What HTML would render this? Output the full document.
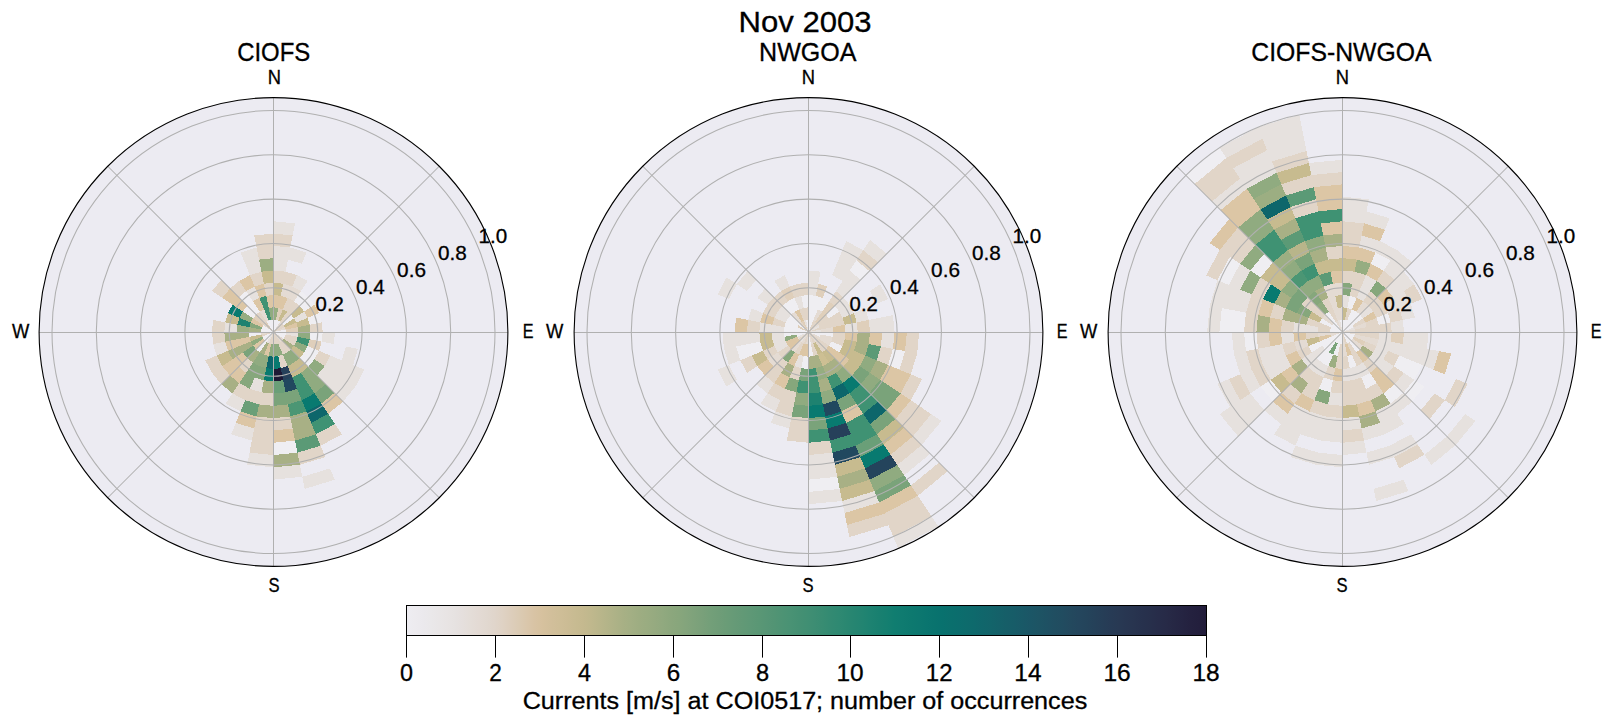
<!DOCTYPE html><html><head><meta charset="utf-8"><style>html,body{margin:0;padding:0;background:#fff;width:1611px;height:724px;overflow:hidden}svg{display:block}text{font-family:"Liberation Sans",sans-serif;fill:#000;stroke:#000;stroke-width:0.3px}</style></head><body>
<svg width="1611" height="724" viewBox="0 0 1611 724">
<rect width="1611" height="724" fill="#fff"/>
<text x="738.54" y="32.00" font-size="29.60" textLength="133.03" lengthAdjust="spacingAndGlyphs">Nov 2003</text>
<text x="237.13" y="60.80" font-size="26.15" textLength="73.12" lengthAdjust="spacingAndGlyphs">CIOFS</text>
<text x="759.06" y="60.80" font-size="26.15" textLength="97.47" lengthAdjust="spacingAndGlyphs">NWGOA</text>
<text x="1251.33" y="60.80" font-size="26.15" textLength="180.14" lengthAdjust="spacingAndGlyphs">CIOFS-NWGOA</text>
<circle cx="273.50" cy="332.00" r="234.40" fill="#ECEBF2"/>
<g shape-rendering="crispEdges"><path d="M273.50,332.00L273.50,319.69L275.90,319.93L273.50,332.00Z" fill="#efeef2"/><path d="M273.50,319.69L273.50,307.39L278.30,307.86L275.90,319.93Z" fill="#96ad81"/><path d="M273.50,307.39L273.50,295.08L280.70,295.79L278.30,307.86Z" fill="#dcc6a5"/><path d="M273.50,295.08L273.50,282.78L283.10,283.72L280.70,295.79Z" fill="#c7bb8f"/><path d="M273.50,282.78L273.50,270.47L285.50,271.65L283.10,283.72Z" fill="#e1d5c8"/><path d="M273.50,270.47L273.50,258.17L287.90,259.59L285.50,271.65Z" fill="#e6e1de"/><path d="M273.50,258.17L273.50,245.86L290.30,247.52L287.90,259.59Z" fill="#e6e1de"/><path d="M273.50,245.86L273.50,233.56L292.71,235.45L290.30,247.52Z" fill="#e1d5c8"/><path d="M273.50,233.56L273.50,221.25L295.11,223.38L292.71,235.45Z" fill="#e6e1de"/><path d="M273.50,332.00L275.90,319.93L278.21,320.63L273.50,332.00Z" fill="#efeef2"/><path d="M275.90,319.93L278.30,307.86L282.92,309.26L278.21,320.63Z" fill="#dfcfbb"/><path d="M278.30,307.86L280.70,295.79L287.63,297.89L282.92,309.26Z" fill="#dcc6a5"/><path d="M280.70,295.79L283.10,283.72L292.34,286.52L287.63,297.89Z" fill="#e4dbd3"/><path d="M283.10,283.72L285.50,271.65L297.05,275.16L292.34,286.52Z" fill="#e1d5c8"/><path d="M287.90,259.59L290.30,247.52L306.46,252.42L301.75,263.79Z" fill="#e6e1de"/><path d="M273.50,332.00L278.21,320.63L280.34,321.77L273.50,332.00Z" fill="#efeef2"/><path d="M278.21,320.63L282.92,309.26L287.17,311.54L280.34,321.77Z" fill="#c7bb8f"/><path d="M282.92,309.26L287.63,297.89L294.01,301.30L287.17,311.54Z" fill="#e1d5c8"/><path d="M287.63,297.89L292.34,286.52L300.85,291.07L294.01,301.30Z" fill="#e4dbd3"/><path d="M292.34,286.52L297.05,275.16L307.68,280.84L300.85,291.07Z" fill="#e6e1de"/><path d="M273.50,332.00L280.34,321.77L282.20,323.30L273.50,332.00Z" fill="#e4dbd3"/><path d="M280.34,321.77L287.17,311.54L290.90,314.60L282.20,323.30Z" fill="#e1d5c8"/><path d="M287.17,311.54L294.01,301.30L299.60,305.90L290.90,314.60Z" fill="#e1d5c8"/><path d="M294.01,301.30L300.85,291.07L308.31,297.19L299.60,305.90Z" fill="#efeef2"/><path d="M273.50,332.00L282.20,323.30L283.73,325.16L273.50,332.00Z" fill="#e1d5c8"/><path d="M282.20,323.30L290.90,314.60L293.96,318.33L283.73,325.16Z" fill="#efeef2"/><path d="M290.90,314.60L299.60,305.90L304.20,311.49L293.96,318.33Z" fill="#c7bb8f"/><path d="M299.60,305.90L308.31,297.19L314.43,304.65L304.20,311.49Z" fill="#efeef2"/><path d="M273.50,332.00L283.73,325.16L284.87,327.29L273.50,332.00Z" fill="#e1d5c8"/><path d="M283.73,325.16L293.96,318.33L296.24,322.58L284.87,327.29Z" fill="#c7bb8f"/><path d="M293.96,318.33L304.20,311.49L307.61,317.87L296.24,322.58Z" fill="#e6e1de"/><path d="M304.20,311.49L314.43,304.65L318.98,313.16L307.61,317.87Z" fill="#dcc6a5"/><path d="M273.50,332.00L284.87,327.29L285.57,329.60L273.50,332.00Z" fill="#e4dbd3"/><path d="M284.87,327.29L296.24,322.58L297.64,327.20L285.57,329.60Z" fill="#dcc6a5"/><path d="M296.24,322.58L307.61,317.87L309.71,324.80L297.64,327.20Z" fill="#c7bb8f"/><path d="M307.61,317.87L318.98,313.16L321.78,322.40L309.71,324.80Z" fill="#efeef2"/><path d="M273.50,332.00L285.57,329.60L285.81,332.00L273.50,332.00Z" fill="#efeef2"/><path d="M285.57,329.60L297.64,327.20L298.11,332.00L285.81,332.00Z" fill="#dfcfbb"/><path d="M297.64,327.20L309.71,324.80L310.42,332.00L298.11,332.00Z" fill="#a8b085"/><path d="M309.71,324.80L321.78,322.40L322.72,332.00L310.42,332.00Z" fill="#e1d5c8"/><path d="M273.50,332.00L285.81,332.00L285.57,334.40L273.50,332.00Z" fill="#efeef2"/><path d="M285.81,332.00L298.11,332.00L297.64,336.80L285.57,334.40Z" fill="#e6e1de"/><path d="M298.11,332.00L310.42,332.00L309.71,339.20L297.64,336.80Z" fill="#90ab80"/><path d="M310.42,332.00L322.72,332.00L321.78,341.60L309.71,339.20Z" fill="#efeef2"/><path d="M322.72,332.00L335.03,332.00L333.85,344.00L321.78,341.60Z" fill="#e6e1de"/><path d="M273.50,332.00L285.57,334.40L284.87,336.71L273.50,332.00Z" fill="#efeef2"/><path d="M285.57,334.40L297.64,336.80L296.24,341.42L284.87,336.71Z" fill="#e1d5c8"/><path d="M297.64,336.80L309.71,339.20L307.61,346.13L296.24,341.42Z" fill="#3f9273"/><path d="M309.71,339.20L321.78,341.60L318.98,350.84L307.61,346.13Z" fill="#dfcfbb"/><path d="M345.91,346.40L357.98,348.80L353.08,364.96L341.71,360.25Z" fill="#e6e1de"/><path d="M273.50,332.00L284.87,336.71L283.73,338.84L273.50,332.00Z" fill="#efeef2"/><path d="M284.87,336.71L296.24,341.42L293.96,345.67L283.73,338.84Z" fill="#e1d5c8"/><path d="M296.24,341.42L307.61,346.13L304.20,352.51L293.96,345.67Z" fill="#90ab80"/><path d="M307.61,346.13L318.98,350.84L314.43,359.35L304.20,352.51Z" fill="#efeef2"/><path d="M318.98,350.84L330.34,355.55L324.66,366.18L314.43,359.35Z" fill="#e1d5c8"/><path d="M330.34,355.55L341.71,360.25L334.89,373.02L324.66,366.18Z" fill="#e6e1de"/><path d="M341.71,360.25L353.08,364.96L345.12,379.86L334.89,373.02Z" fill="#e6e1de"/><path d="M353.08,364.96L364.45,369.67L355.35,386.69L345.12,379.86Z" fill="#e6e1de"/><path d="M273.50,332.00L283.73,338.84L282.20,340.70L273.50,332.00Z" fill="#e4dbd3"/><path d="M283.73,338.84L293.96,345.67L290.90,349.40L282.20,340.70Z" fill="#a8b085"/><path d="M293.96,345.67L304.20,352.51L299.60,358.10L290.90,349.40Z" fill="#c7bb8f"/><path d="M304.20,352.51L314.43,359.35L308.31,366.81L299.60,358.10Z" fill="#efeef2"/><path d="M314.43,359.35L324.66,366.18L317.01,375.51L308.31,366.81Z" fill="#90ab80"/><path d="M324.66,366.18L334.89,373.02L325.71,384.21L317.01,375.51Z" fill="#e6e1de"/><path d="M334.89,373.02L345.12,379.86L334.41,392.91L325.71,384.21Z" fill="#e6e1de"/><path d="M345.12,379.86L355.35,386.69L343.11,401.61L334.41,392.91Z" fill="#e6e1de"/><path d="M273.50,332.00L282.20,340.70L280.34,342.23L273.50,332.00Z" fill="#e4dbd3"/><path d="M282.20,340.70L290.90,349.40L287.17,352.46L280.34,342.23Z" fill="#e1d5c8"/><path d="M290.90,349.40L299.60,358.10L294.01,362.70L287.17,352.46Z" fill="#90ab80"/><path d="M299.60,358.10L308.31,366.81L300.85,372.93L294.01,362.70Z" fill="#c7bb8f"/><path d="M308.31,366.81L317.01,375.51L307.68,383.16L300.85,372.93Z" fill="#90ab80"/><path d="M317.01,375.51L325.71,384.21L314.52,393.39L307.68,383.16Z" fill="#90ab80"/><path d="M325.71,384.21L334.41,392.91L321.36,403.62L314.52,393.39Z" fill="#7aa37a"/><path d="M334.41,392.91L343.11,401.61L328.19,413.85L321.36,403.62Z" fill="#dcc6a5"/><path d="M273.50,332.00L280.34,342.23L278.21,343.37L273.50,332.00Z" fill="#e1d5c8"/><path d="M280.34,342.23L287.17,352.46L282.92,354.74L278.21,343.37Z" fill="#e1d5c8"/><path d="M287.17,352.46L294.01,362.70L287.63,366.11L282.92,354.74Z" fill="#90ab80"/><path d="M294.01,362.70L300.85,372.93L292.34,377.48L287.63,366.11Z" fill="#c7bb8f"/><path d="M300.85,372.93L307.68,383.16L297.05,388.84L292.34,377.48Z" fill="#3f9273"/><path d="M307.68,383.16L314.52,393.39L301.75,400.21L297.05,388.84Z" fill="#3f9273"/><path d="M314.52,393.39L321.36,403.62L306.46,411.58L301.75,400.21Z" fill="#087a70"/><path d="M321.36,403.62L328.19,413.85L311.17,422.95L306.46,411.58Z" fill="#0d666b"/><path d="M328.19,413.85L335.03,424.09L315.88,434.32L311.17,422.95Z" fill="#3f9273"/><path d="M335.03,424.09L341.87,434.32L320.59,445.69L315.88,434.32Z" fill="#e1d5c8"/><path d="M273.50,332.00L278.21,343.37L275.90,344.07L273.50,332.00Z" fill="#e1d5c8"/><path d="M278.21,343.37L282.92,354.74L278.30,356.14L275.90,344.07Z" fill="#90ab80"/><path d="M282.92,354.74L287.63,366.11L280.70,368.21L278.30,356.14Z" fill="#e1d5c8"/><path d="M287.63,366.11L292.34,377.48L283.10,380.28L280.70,368.21Z" fill="#26405a"/><path d="M292.34,377.48L297.05,388.84L285.50,392.35L283.10,380.28Z" fill="#21485f"/><path d="M297.05,388.84L301.75,400.21L287.90,404.41L285.50,392.35Z" fill="#7aa37a"/><path d="M301.75,400.21L306.46,411.58L290.30,416.48L287.90,404.41Z" fill="#4b9674"/><path d="M306.46,411.58L311.17,422.95L292.71,428.55L290.30,416.48Z" fill="#a8b085"/><path d="M311.17,422.95L315.88,434.32L295.11,440.62L292.71,428.55Z" fill="#a8b085"/><path d="M315.88,434.32L320.59,445.69L297.51,452.69L295.11,440.62Z" fill="#5b9a76"/><path d="M320.59,445.69L325.30,457.06L299.91,464.76L297.51,452.69Z" fill="#e1d5c8"/><path d="M330.01,468.43L334.72,479.80L304.71,488.90L302.31,476.83Z" fill="#e6e1de"/><path d="M273.50,332.00L275.90,344.07L273.50,344.31L273.50,332.00Z" fill="#e1d5c8"/><path d="M275.90,344.07L278.30,356.14L273.50,356.61L273.50,344.31Z" fill="#90ab80"/><path d="M278.30,356.14L280.70,368.21L273.50,368.92L273.50,356.61Z" fill="#087a70"/><path d="M280.70,368.21L283.10,380.28L273.50,381.22L273.50,368.92Z" fill="#1e1a36"/><path d="M283.10,380.28L285.50,392.35L273.50,393.53L273.50,381.22Z" fill="#6a9f78"/><path d="M285.50,392.35L287.90,404.41L273.50,405.83L273.50,393.53Z" fill="#7aa37a"/><path d="M287.90,404.41L290.30,416.48L273.50,418.14L273.50,405.83Z" fill="#a8b085"/><path d="M290.30,416.48L292.71,428.55L273.50,430.44L273.50,418.14Z" fill="#e1d5c8"/><path d="M292.71,428.55L295.11,440.62L273.50,442.75L273.50,430.44Z" fill="#dcc6a5"/><path d="M295.11,440.62L297.51,452.69L273.50,455.06L273.50,442.75Z" fill="#efeef2"/><path d="M297.51,452.69L299.91,464.76L273.50,467.36L273.50,455.06Z" fill="#a8b085"/><path d="M299.91,464.76L302.31,476.83L273.50,479.67L273.50,467.36Z" fill="#e6e1de"/><path d="M273.50,332.00L273.50,344.31L271.10,344.07L273.50,332.00Z" fill="#e1d5c8"/><path d="M273.50,344.31L273.50,356.61L268.70,356.14L271.10,344.07Z" fill="#90ab80"/><path d="M273.50,356.61L273.50,368.92L266.30,368.21L268.70,356.14Z" fill="#0d666b"/><path d="M273.50,368.92L273.50,381.22L263.90,380.28L266.30,368.21Z" fill="#087a70"/><path d="M273.50,381.22L273.50,393.53L261.50,392.35L263.90,380.28Z" fill="#a8b085"/><path d="M273.50,393.53L273.50,405.83L259.10,404.41L261.50,392.35Z" fill="#e1d5c8"/><path d="M273.50,405.83L273.50,418.14L256.70,416.48L259.10,404.41Z" fill="#a8b085"/><path d="M273.50,418.14L273.50,430.44L254.29,428.55L256.70,416.48Z" fill="#e1d5c8"/><path d="M273.50,430.44L273.50,442.75L251.89,440.62L254.29,428.55Z" fill="#e1d5c8"/><path d="M273.50,442.75L273.50,455.06L249.49,452.69L251.89,440.62Z" fill="#e1d5c8"/><path d="M273.50,455.06L273.50,467.36L247.09,464.76L249.49,452.69Z" fill="#e6e1de"/><path d="M273.50,332.00L271.10,344.07L268.79,343.37L273.50,332.00Z" fill="#e1d5c8"/><path d="M271.10,344.07L268.70,356.14L264.08,354.74L268.79,343.37Z" fill="#dcc6a5"/><path d="M268.70,356.14L266.30,368.21L259.37,366.11L264.08,354.74Z" fill="#90ab80"/><path d="M266.30,368.21L263.90,380.28L254.66,377.48L259.37,366.11Z" fill="#86a77c"/><path d="M263.90,380.28L261.50,392.35L249.95,388.84L254.66,377.48Z" fill="#e6e1de"/><path d="M261.50,392.35L259.10,404.41L245.25,400.21L249.95,388.84Z" fill="#e1d5c8"/><path d="M259.10,404.41L256.70,416.48L240.54,411.58L245.25,400.21Z" fill="#6a9f78"/><path d="M256.70,416.48L254.29,428.55L235.83,422.95L240.54,411.58Z" fill="#dcc6a5"/><path d="M254.29,428.55L251.89,440.62L231.12,434.32L235.83,422.95Z" fill="#e6e1de"/><path d="M273.50,332.00L268.79,343.37L266.66,342.23L273.50,332.00Z" fill="#e6e1de"/><path d="M268.79,343.37L264.08,354.74L259.83,352.46L266.66,342.23Z" fill="#a8b085"/><path d="M264.08,354.74L259.37,366.11L252.99,362.70L259.83,352.46Z" fill="#90ab80"/><path d="M259.37,366.11L254.66,377.48L246.15,372.93L252.99,362.70Z" fill="#86a77c"/><path d="M254.66,377.48L249.95,388.84L239.32,383.16L246.15,372.93Z" fill="#86a77c"/><path d="M249.95,388.84L245.25,400.21L232.48,393.39L239.32,383.16Z" fill="#e1d5c8"/><path d="M245.25,400.21L240.54,411.58L225.64,403.62L232.48,393.39Z" fill="#e6e1de"/><path d="M273.50,332.00L266.66,342.23L264.80,340.70L273.50,332.00Z" fill="#efeef2"/><path d="M266.66,342.23L259.83,352.46L256.10,349.40L264.80,340.70Z" fill="#efeef2"/><path d="M259.83,352.46L252.99,362.70L247.40,358.10L256.10,349.40Z" fill="#a8b085"/><path d="M252.99,362.70L246.15,372.93L238.69,366.81L247.40,358.10Z" fill="#e1d5c8"/><path d="M246.15,372.93L239.32,383.16L229.99,375.51L238.69,366.81Z" fill="#dcc6a5"/><path d="M239.32,383.16L232.48,393.39L221.29,384.21L229.99,375.51Z" fill="#a8b085"/><path d="M273.50,332.00L264.80,340.70L263.27,338.84L273.50,332.00Z" fill="#efeef2"/><path d="M264.80,340.70L256.10,349.40L253.04,345.67L263.27,338.84Z" fill="#dcc6a5"/><path d="M256.10,349.40L247.40,358.10L242.80,352.51L253.04,345.67Z" fill="#7aa37a"/><path d="M247.40,358.10L238.69,366.81L232.57,359.35L242.80,352.51Z" fill="#dcc6a5"/><path d="M238.69,366.81L229.99,375.51L222.34,366.18L232.57,359.35Z" fill="#dcc6a5"/><path d="M229.99,375.51L221.29,384.21L212.11,373.02L222.34,366.18Z" fill="#e1d5c8"/><path d="M273.50,332.00L263.27,338.84L262.13,336.71L273.50,332.00Z" fill="#efeef2"/><path d="M263.27,338.84L253.04,345.67L250.76,341.42L262.13,336.71Z" fill="#90ab80"/><path d="M253.04,345.67L242.80,352.51L239.39,346.13L250.76,341.42Z" fill="#a8b085"/><path d="M242.80,352.51L232.57,359.35L228.02,350.84L239.39,346.13Z" fill="#a8b085"/><path d="M232.57,359.35L222.34,366.18L216.66,355.55L228.02,350.84Z" fill="#c7bb8f"/><path d="M222.34,366.18L212.11,373.02L205.29,360.25L216.66,355.55Z" fill="#e1d5c8"/><path d="M273.50,332.00L262.13,336.71L261.43,334.40L273.50,332.00Z" fill="#e1d5c8"/><path d="M262.13,336.71L250.76,341.42L249.36,336.80L261.43,334.40Z" fill="#c7bb8f"/><path d="M250.76,341.42L239.39,346.13L237.29,339.20L249.36,336.80Z" fill="#dcc6a5"/><path d="M239.39,346.13L228.02,350.84L225.22,341.60L237.29,339.20Z" fill="#dcc6a5"/><path d="M228.02,350.84L216.66,355.55L213.15,344.00L225.22,341.60Z" fill="#e6e1de"/><path d="M273.50,332.00L261.43,334.40L261.19,332.00L273.50,332.00Z" fill="#e4dbd3"/><path d="M261.43,334.40L249.36,336.80L248.89,332.00L261.19,332.00Z" fill="#efeef2"/><path d="M249.36,336.80L237.29,339.20L236.58,332.00L248.89,332.00Z" fill="#a8b085"/><path d="M237.29,339.20L225.22,341.60L224.28,332.00L236.58,332.00Z" fill="#a8b085"/><path d="M225.22,341.60L213.15,344.00L211.97,332.00L224.28,332.00Z" fill="#e1d5c8"/><path d="M273.50,332.00L261.19,332.00L261.43,329.60L273.50,332.00Z" fill="#efeef2"/><path d="M261.19,332.00L248.89,332.00L249.36,327.20L261.43,329.60Z" fill="#a8b085"/><path d="M248.89,332.00L236.58,332.00L237.29,324.80L249.36,327.20Z" fill="#9cae82"/><path d="M236.58,332.00L224.28,332.00L225.22,322.40L237.29,324.80Z" fill="#e6e1de"/><path d="M224.28,332.00L211.97,332.00L213.15,320.00L225.22,322.40Z" fill="#e1d5c8"/><path d="M273.50,332.00L261.43,329.60L262.13,327.29L273.50,332.00Z" fill="#efeef2"/><path d="M261.43,329.60L249.36,327.20L250.76,322.58L262.13,327.29Z" fill="#86a77c"/><path d="M249.36,327.20L237.29,324.80L239.39,317.87L250.76,322.58Z" fill="#1e8270"/><path d="M237.29,324.80L225.22,322.40L228.02,313.16L239.39,317.87Z" fill="#c7bb8f"/><path d="M273.50,332.00L262.13,327.29L263.27,325.16L273.50,332.00Z" fill="#efeef2"/><path d="M262.13,327.29L250.76,322.58L253.04,318.33L263.27,325.16Z" fill="#dcc6a5"/><path d="M250.76,322.58L239.39,317.87L242.80,311.49L253.04,318.33Z" fill="#96ad81"/><path d="M239.39,317.87L228.02,313.16L232.57,304.65L242.80,311.49Z" fill="#087a70"/><path d="M273.50,332.00L263.27,325.16L264.80,323.30L273.50,332.00Z" fill="#e1d5c8"/><path d="M263.27,325.16L253.04,318.33L256.10,314.60L264.80,323.30Z" fill="#dfcfbb"/><path d="M253.04,318.33L242.80,311.49L247.40,305.90L256.10,314.60Z" fill="#efeef2"/><path d="M242.80,311.49L232.57,304.65L238.69,297.19L247.40,305.90Z" fill="#dcc6a5"/><path d="M232.57,304.65L222.34,297.82L229.99,288.49L238.69,297.19Z" fill="#dcc6a5"/><path d="M222.34,297.82L212.11,290.98L221.29,279.79L229.99,288.49Z" fill="#e1d5c8"/><path d="M273.50,332.00L264.80,323.30L266.66,321.77L273.50,332.00Z" fill="#dfcfbb"/><path d="M264.80,323.30L256.10,314.60L259.83,311.54L266.66,321.77Z" fill="#e1d5c8"/><path d="M256.10,314.60L247.40,305.90L252.99,301.30L259.83,311.54Z" fill="#efeef2"/><path d="M247.40,305.90L238.69,297.19L246.15,291.07L252.99,301.30Z" fill="#efeef2"/><path d="M238.69,297.19L229.99,288.49L239.32,280.84L246.15,291.07Z" fill="#e1d5c8"/><path d="M273.50,332.00L266.66,321.77L268.79,320.63L273.50,332.00Z" fill="#efeef2"/><path d="M266.66,321.77L259.83,311.54L264.08,309.26L268.79,320.63Z" fill="#e4dbd3"/><path d="M259.83,311.54L252.99,301.30L259.37,297.89L264.08,309.26Z" fill="#dcc6a5"/><path d="M252.99,301.30L246.15,291.07L254.66,286.52L259.37,297.89Z" fill="#e6e1de"/><path d="M246.15,291.07L239.32,280.84L249.95,275.16L254.66,286.52Z" fill="#dcc6a5"/><path d="M273.50,332.00L268.79,320.63L271.10,319.93L273.50,332.00Z" fill="#efeef2"/><path d="M268.79,320.63L264.08,309.26L268.70,307.86L271.10,319.93Z" fill="#3f9273"/><path d="M264.08,309.26L259.37,297.89L266.30,295.79L268.70,307.86Z" fill="#3f9273"/><path d="M259.37,297.89L254.66,286.52L263.90,283.72L266.30,295.79Z" fill="#dcc6a5"/><path d="M254.66,286.52L249.95,275.16L261.50,271.65L263.90,283.72Z" fill="#e1d5c8"/><path d="M249.95,275.16L245.25,263.79L259.10,259.59L261.50,271.65Z" fill="#e6e1de"/><path d="M245.25,263.79L240.54,252.42L256.70,247.52L259.10,259.59Z" fill="#e6e1de"/><path d="M273.50,332.00L271.10,319.93L273.50,319.69L273.50,332.00Z" fill="#efeef2"/><path d="M271.10,319.93L268.70,307.86L273.50,307.39L273.50,319.69Z" fill="#90ab80"/><path d="M268.70,307.86L266.30,295.79L273.50,295.08L273.50,307.39Z" fill="#dcc6a5"/><path d="M266.30,295.79L263.90,283.72L273.50,282.78L273.50,295.08Z" fill="#e1d5c8"/><path d="M263.90,283.72L261.50,271.65L273.50,270.47L273.50,282.78Z" fill="#c7bb8f"/><path d="M261.50,271.65L259.10,259.59L273.50,258.17L273.50,270.47Z" fill="#9cae82"/><path d="M259.10,259.59L256.70,247.52L273.50,245.86L273.50,258.17Z" fill="#e1d5c8"/><path d="M256.70,247.52L254.29,235.45L273.50,233.56L273.50,245.86Z" fill="#e1d5c8"/></g>
<g fill="none" stroke="#b0b0b0" stroke-width="1.05"><circle cx="273.50" cy="332.00" r="44.30"/><circle cx="273.50" cy="332.00" r="88.60"/><circle cx="273.50" cy="332.00" r="132.90"/><circle cx="273.50" cy="332.00" r="177.20"/><circle cx="273.50" cy="332.00" r="221.50"/><line x1="273.50" y1="332.00" x2="273.50" y2="97.60"/><line x1="273.50" y1="332.00" x2="439.25" y2="166.25"/><line x1="273.50" y1="332.50" x2="507.90" y2="332.50"/><line x1="273.50" y1="332.00" x2="439.25" y2="497.75"/><line x1="273.50" y1="332.00" x2="273.50" y2="566.40"/><line x1="273.50" y1="332.00" x2="107.75" y2="497.75"/><line x1="273.50" y1="332.50" x2="39.10" y2="332.50"/><line x1="273.50" y1="332.00" x2="107.75" y2="166.25"/></g>
<circle cx="273.50" cy="332.00" r="234.40" fill="none" stroke="#000" stroke-width="1.1"/>
<text x="267.66" y="83.90" font-size="19.77" textLength="13.27" lengthAdjust="spacingAndGlyphs">N</text>
<text x="268.57" y="591.50" font-size="19.77" textLength="11.06" lengthAdjust="spacingAndGlyphs">S</text>
<text x="522.71" y="337.60" font-size="19.77" textLength="10.75" lengthAdjust="spacingAndGlyphs">E</text>
<text x="11.94" y="337.60" font-size="19.77" textLength="17.31" lengthAdjust="spacingAndGlyphs">W</text>
<text x="315.59" y="310.95" font-size="19.77" textLength="28.31" lengthAdjust="spacingAndGlyphs">0.2</text>
<text x="356.09" y="293.99" font-size="19.77" textLength="28.72" lengthAdjust="spacingAndGlyphs">0.4</text>
<text x="397.08" y="277.04" font-size="19.77" textLength="28.91" lengthAdjust="spacingAndGlyphs">0.6</text>
<text x="438.06" y="260.09" font-size="19.77" textLength="28.79" lengthAdjust="spacingAndGlyphs">0.8</text>
<text x="478.62" y="243.14" font-size="19.77" textLength="28.68" lengthAdjust="spacingAndGlyphs">1.0</text>
<circle cx="808.50" cy="332.00" r="234.40" fill="#ECEBF2"/>
<g shape-rendering="crispEdges"><path d="M808.50,332.00L808.50,319.69L810.90,319.93L808.50,332.00Z" fill="#efeef2"/><path d="M808.50,319.69L808.50,307.39L813.30,307.86L810.90,319.93Z" fill="#efeef2"/><path d="M808.50,307.39L808.50,295.08L815.70,295.79L813.30,307.86Z" fill="#efeef2"/><path d="M808.50,295.08L808.50,282.78L818.10,283.72L815.70,295.79Z" fill="#e6e1de"/><path d="M808.50,282.78L808.50,270.47L820.50,271.65L818.10,283.72Z" fill="#e6e1de"/><path d="M808.50,332.00L810.90,319.93L813.21,320.63L808.50,332.00Z" fill="#efeef2"/><path d="M810.90,319.93L813.30,307.86L817.92,309.26L813.21,320.63Z" fill="#efeef2"/><path d="M813.30,307.86L815.70,295.79L822.63,297.89L817.92,309.26Z" fill="#efeef2"/><path d="M815.70,295.79L818.10,283.72L827.34,286.52L822.63,297.89Z" fill="#dfcfbb"/><path d="M808.50,332.00L813.21,320.63L815.34,321.77L808.50,332.00Z" fill="#e1d5c8"/><path d="M813.21,320.63L817.92,309.26L822.17,311.54L815.34,321.77Z" fill="#e4dbd3"/><path d="M817.92,309.26L822.63,297.89L829.01,301.30L822.17,311.54Z" fill="#efeef2"/><path d="M832.05,275.16L836.75,263.79L849.52,270.61L842.68,280.84Z" fill="#e6e1de"/><path d="M836.75,263.79L841.46,252.42L856.36,260.38L849.52,270.61Z" fill="#e6e1de"/><path d="M841.46,252.42L846.17,241.05L863.19,250.15L856.36,260.38Z" fill="#e6e1de"/><path d="M808.50,332.00L815.34,321.77L817.20,323.30L808.50,332.00Z" fill="#e1d5c8"/><path d="M815.34,321.77L822.17,311.54L825.90,314.60L817.20,323.30Z" fill="#dfcfbb"/><path d="M822.17,311.54L829.01,301.30L834.60,305.90L825.90,314.60Z" fill="#dfcfbb"/><path d="M829.01,301.30L835.85,291.07L843.31,297.19L834.60,305.90Z" fill="#e1d5c8"/><path d="M835.85,291.07L842.68,280.84L852.01,288.49L843.31,297.19Z" fill="#e6e1de"/><path d="M842.68,280.84L849.52,270.61L860.71,279.79L852.01,288.49Z" fill="#e6e1de"/><path d="M849.52,270.61L856.36,260.38L869.41,271.09L860.71,279.79Z" fill="#efeef2"/><path d="M856.36,260.38L863.19,250.15L878.11,262.39L869.41,271.09Z" fill="#e1d5c8"/><path d="M863.19,250.15L870.03,239.91L886.81,253.69L878.11,262.39Z" fill="#e6e1de"/><path d="M808.50,332.00L817.20,323.30L818.73,325.16L808.50,332.00Z" fill="#e4dbd3"/><path d="M817.20,323.30L825.90,314.60L828.96,318.33L818.73,325.16Z" fill="#e1d5c8"/><path d="M825.90,314.60L834.60,305.90L839.20,311.49L828.96,318.33Z" fill="#efeef2"/><path d="M834.60,305.90L843.31,297.19L849.43,304.65L839.20,311.49Z" fill="#e6e1de"/><path d="M808.50,332.00L818.73,325.16L819.87,327.29L808.50,332.00Z" fill="#e6e1de"/><path d="M818.73,325.16L828.96,318.33L831.24,322.58L819.87,327.29Z" fill="#e1d5c8"/><path d="M828.96,318.33L839.20,311.49L842.61,317.87L831.24,322.58Z" fill="#e1d5c8"/><path d="M839.20,311.49L849.43,304.65L853.98,313.16L842.61,317.87Z" fill="#e6e1de"/><path d="M869.89,290.98L880.12,284.14L888.08,299.04L876.71,303.75Z" fill="#e6e1de"/><path d="M808.50,332.00L819.87,327.29L820.57,329.60L808.50,332.00Z" fill="#e1d5c8"/><path d="M819.87,327.29L831.24,322.58L832.64,327.20L820.57,329.60Z" fill="#e1d5c8"/><path d="M831.24,322.58L842.61,317.87L844.71,324.80L832.64,327.20Z" fill="#e1d5c8"/><path d="M842.61,317.87L853.98,313.16L856.78,322.40L844.71,324.80Z" fill="#c7bb8f"/><path d="M853.98,313.16L865.34,308.45L868.85,320.00L856.78,322.40Z" fill="#e6e1de"/><path d="M808.50,332.00L820.57,329.60L820.81,332.00L808.50,332.00Z" fill="#e6e1de"/><path d="M820.57,329.60L832.64,327.20L833.11,332.00L820.81,332.00Z" fill="#e4dbd3"/><path d="M832.64,327.20L844.71,324.80L845.42,332.00L833.11,332.00Z" fill="#dcc6a5"/><path d="M844.71,324.80L856.78,322.40L857.72,332.00L845.42,332.00Z" fill="#e6e1de"/><path d="M856.78,322.40L868.85,320.00L870.03,332.00L857.72,332.00Z" fill="#dfcfbb"/><path d="M868.85,320.00L880.91,317.60L882.33,332.00L870.03,332.00Z" fill="#e6e1de"/><path d="M880.91,317.60L892.98,315.20L894.64,332.00L882.33,332.00Z" fill="#e6e1de"/><path d="M808.50,332.00L820.81,332.00L820.57,334.40L808.50,332.00Z" fill="#efeef2"/><path d="M820.81,332.00L833.11,332.00L832.64,336.80L820.57,334.40Z" fill="#efeef2"/><path d="M833.11,332.00L845.42,332.00L844.71,339.20L832.64,336.80Z" fill="#e1d5c8"/><path d="M845.42,332.00L857.72,332.00L856.78,341.60L844.71,339.20Z" fill="#dcc6a5"/><path d="M857.72,332.00L870.03,332.00L868.85,344.00L856.78,341.60Z" fill="#a8b085"/><path d="M870.03,332.00L882.33,332.00L880.91,346.40L868.85,344.00Z" fill="#dcc6a5"/><path d="M882.33,332.00L894.64,332.00L892.98,348.80L880.91,346.40Z" fill="#e6e1de"/><path d="M894.64,332.00L906.94,332.00L905.05,351.21L892.98,348.80Z" fill="#dcc6a5"/><path d="M906.94,332.00L919.25,332.00L917.12,353.61L905.05,351.21Z" fill="#e1d5c8"/><path d="M808.50,332.00L820.57,334.40L819.87,336.71L808.50,332.00Z" fill="#efeef2"/><path d="M820.57,334.40L832.64,336.80L831.24,341.42L819.87,336.71Z" fill="#e4dbd3"/><path d="M832.64,336.80L844.71,339.20L842.61,346.13L831.24,341.42Z" fill="#e1d5c8"/><path d="M844.71,339.20L856.78,341.60L853.98,350.84L842.61,346.13Z" fill="#c7bb8f"/><path d="M856.78,341.60L868.85,344.00L865.34,355.55L853.98,350.84Z" fill="#a8b085"/><path d="M868.85,344.00L880.91,346.40L876.71,360.25L865.34,355.55Z" fill="#5b9a76"/><path d="M880.91,346.40L892.98,348.80L888.08,364.96L876.71,360.25Z" fill="#e1d5c8"/><path d="M892.98,348.80L905.05,351.21L899.45,369.67L888.08,364.96Z" fill="#efeef2"/><path d="M905.05,351.21L917.12,353.61L910.82,374.38L899.45,369.67Z" fill="#e1d5c8"/><path d="M808.50,332.00L819.87,336.71L818.73,338.84L808.50,332.00Z" fill="#e4dbd3"/><path d="M819.87,336.71L831.24,341.42L828.96,345.67L818.73,338.84Z" fill="#e4dbd3"/><path d="M831.24,341.42L842.61,346.13L839.20,352.51L828.96,345.67Z" fill="#efeef2"/><path d="M842.61,346.13L853.98,350.84L849.43,359.35L839.20,352.51Z" fill="#c7bb8f"/><path d="M853.98,350.84L865.34,355.55L859.66,366.18L849.43,359.35Z" fill="#c7bb8f"/><path d="M865.34,355.55L876.71,360.25L869.89,373.02L859.66,366.18Z" fill="#90ab80"/><path d="M876.71,360.25L888.08,364.96L880.12,379.86L869.89,373.02Z" fill="#a8b085"/><path d="M888.08,364.96L899.45,369.67L890.35,386.69L880.12,379.86Z" fill="#dcc6a5"/><path d="M899.45,369.67L910.82,374.38L900.59,393.53L890.35,386.69Z" fill="#dcc6a5"/><path d="M910.82,374.38L922.19,379.09L910.82,400.37L900.59,393.53Z" fill="#e1d5c8"/><path d="M808.50,332.00L818.73,338.84L817.20,340.70L808.50,332.00Z" fill="#e1d5c8"/><path d="M818.73,338.84L828.96,345.67L825.90,349.40L817.20,340.70Z" fill="#e1d5c8"/><path d="M828.96,345.67L839.20,352.51L834.60,358.10L825.90,349.40Z" fill="#dcc6a5"/><path d="M839.20,352.51L849.43,359.35L843.31,366.81L834.60,358.10Z" fill="#dcc6a5"/><path d="M849.43,359.35L859.66,366.18L852.01,375.51L843.31,366.81Z" fill="#c7bb8f"/><path d="M859.66,366.18L869.89,373.02L860.71,384.21L852.01,375.51Z" fill="#7aa37a"/><path d="M869.89,373.02L880.12,379.86L869.41,392.91L860.71,384.21Z" fill="#90ab80"/><path d="M880.12,379.86L890.35,386.69L878.11,401.61L869.41,392.91Z" fill="#7aa37a"/><path d="M890.35,386.69L900.59,393.53L886.81,410.31L878.11,401.61Z" fill="#7aa37a"/><path d="M900.59,393.53L910.82,400.37L895.51,419.01L886.81,410.31Z" fill="#dcc6a5"/><path d="M910.82,400.37L921.05,407.20L904.21,427.71L895.51,419.01Z" fill="#e1d5c8"/><path d="M921.05,407.20L931.28,414.04L912.92,436.42L904.21,427.71Z" fill="#e1d5c8"/><path d="M931.28,414.04L941.51,420.88L921.62,445.12L912.92,436.42Z" fill="#e6e1de"/><path d="M808.50,332.00L817.20,340.70L815.34,342.23L808.50,332.00Z" fill="#e4dbd3"/><path d="M817.20,340.70L825.90,349.40L822.17,352.46L815.34,342.23Z" fill="#e1d5c8"/><path d="M825.90,349.40L834.60,358.10L829.01,362.70L822.17,352.46Z" fill="#c7bb8f"/><path d="M834.60,358.10L843.31,366.81L835.85,372.93L829.01,362.70Z" fill="#a8b085"/><path d="M843.31,366.81L852.01,375.51L842.68,383.16L835.85,372.93Z" fill="#90ab80"/><path d="M852.01,375.51L860.71,384.21L849.52,393.39L842.68,383.16Z" fill="#087a70"/><path d="M860.71,384.21L869.41,392.91L856.36,403.62L849.52,393.39Z" fill="#3f9273"/><path d="M869.41,392.91L878.11,401.61L863.19,413.85L856.36,403.62Z" fill="#3f9273"/><path d="M878.11,401.61L886.81,410.31L870.03,424.09L863.19,413.85Z" fill="#0d666b"/><path d="M886.81,410.31L895.51,419.01L876.87,434.32L870.03,424.09Z" fill="#7aa37a"/><path d="M895.51,419.01L904.21,427.71L883.70,444.55L876.87,434.32Z" fill="#c7bb8f"/><path d="M904.21,427.71L912.92,436.42L890.54,454.78L883.70,444.55Z" fill="#dcc6a5"/><path d="M912.92,436.42L921.62,445.12L897.38,465.01L890.54,454.78Z" fill="#e1d5c8"/><path d="M921.62,445.12L930.32,453.82L904.21,475.24L897.38,465.01Z" fill="#e6e1de"/><path d="M939.02,462.52L947.72,471.22L917.89,495.71L911.05,485.48Z" fill="#e1d5c8"/><path d="M808.50,332.00L815.34,342.23L813.21,343.37L808.50,332.00Z" fill="#e1d5c8"/><path d="M815.34,342.23L822.17,352.46L817.92,354.74L813.21,343.37Z" fill="#c7bb8f"/><path d="M822.17,352.46L829.01,362.70L822.63,366.11L817.92,354.74Z" fill="#cdbf93"/><path d="M829.01,362.70L835.85,372.93L827.34,377.48L822.63,366.11Z" fill="#a8b085"/><path d="M835.85,372.93L842.68,383.16L832.05,388.84L827.34,377.48Z" fill="#3f9273"/><path d="M842.68,383.16L849.52,393.39L836.75,400.21L832.05,388.84Z" fill="#0d666b"/><path d="M849.52,393.39L856.36,403.62L841.46,411.58L836.75,400.21Z" fill="#7aa37a"/><path d="M856.36,403.62L863.19,413.85L846.17,422.95L841.46,411.58Z" fill="#dcc6a5"/><path d="M863.19,413.85L870.03,424.09L850.88,434.32L846.17,422.95Z" fill="#3f9273"/><path d="M870.03,424.09L876.87,434.32L855.59,445.69L850.88,434.32Z" fill="#3f9273"/><path d="M876.87,434.32L883.70,444.55L860.30,457.06L855.59,445.69Z" fill="#6a9f78"/><path d="M883.70,444.55L890.54,454.78L865.01,468.43L860.30,457.06Z" fill="#087a70"/><path d="M890.54,454.78L897.38,465.01L869.72,479.80L865.01,468.43Z" fill="#24445c"/><path d="M897.38,465.01L904.21,475.24L874.43,491.16L869.72,479.80Z" fill="#90ab80"/><path d="M904.21,475.24L911.05,485.48L879.14,502.53L874.43,491.16Z" fill="#7aa37a"/><path d="M911.05,485.48L917.89,495.71L883.85,513.90L879.14,502.53Z" fill="#dcc6a5"/><path d="M917.89,495.71L924.72,505.94L888.56,525.27L883.85,513.90Z" fill="#e1d5c8"/><path d="M924.72,505.94L931.56,516.17L893.26,536.64L888.56,525.27Z" fill="#e1d5c8"/><path d="M931.56,516.17L938.40,526.40L897.97,548.01L893.26,536.64Z" fill="#e6e1de"/><path d="M808.50,332.00L813.21,343.37L810.90,344.07L808.50,332.00Z" fill="#e4dbd3"/><path d="M813.21,343.37L817.92,354.74L813.30,356.14L810.90,344.07Z" fill="#e1d5c8"/><path d="M817.92,354.74L822.63,366.11L815.70,368.21L813.30,356.14Z" fill="#a8b085"/><path d="M822.63,366.11L827.34,377.48L818.10,380.28L815.70,368.21Z" fill="#96ad81"/><path d="M827.34,377.48L832.05,388.84L820.50,392.35L818.10,380.28Z" fill="#a8b085"/><path d="M832.05,388.84L836.75,400.21L822.90,404.41L820.50,392.35Z" fill="#90ab80"/><path d="M836.75,400.21L841.46,411.58L825.30,416.48L822.90,404.41Z" fill="#21485f"/><path d="M841.46,411.58L846.17,422.95L827.71,428.55L825.30,416.48Z" fill="#087a70"/><path d="M846.17,422.95L850.88,434.32L830.11,440.62L827.71,428.55Z" fill="#26405a"/><path d="M850.88,434.32L855.59,445.69L832.51,452.69L830.11,440.62Z" fill="#3f9273"/><path d="M855.59,445.69L860.30,457.06L834.91,464.76L832.51,452.69Z" fill="#21485f"/><path d="M860.30,457.06L865.01,468.43L837.31,476.83L834.91,464.76Z" fill="#c7bb8f"/><path d="M865.01,468.43L869.72,479.80L839.71,488.90L837.31,476.83Z" fill="#a8b085"/><path d="M869.72,479.80L874.43,491.16L842.11,500.97L839.71,488.90Z" fill="#c7bb8f"/><path d="M874.43,491.16L879.14,502.53L844.51,513.04L842.11,500.97Z" fill="#e6e1de"/><path d="M879.14,502.53L883.85,513.90L846.91,525.11L844.51,513.04Z" fill="#dcc6a5"/><path d="M883.85,513.90L888.56,525.27L849.31,537.17L846.91,525.11Z" fill="#e1d5c8"/><path d="M808.50,332.00L810.90,344.07L808.50,344.31L808.50,332.00Z" fill="#efeef2"/><path d="M810.90,344.07L813.30,356.14L808.50,356.61L808.50,344.31Z" fill="#efeef2"/><path d="M813.30,356.14L815.70,368.21L808.50,368.92L808.50,356.61Z" fill="#a8b085"/><path d="M815.70,368.21L818.10,380.28L808.50,381.22L808.50,368.92Z" fill="#3f9273"/><path d="M818.10,380.28L820.50,392.35L808.50,393.53L808.50,381.22Z" fill="#3f9273"/><path d="M820.50,392.35L822.90,404.41L808.50,405.83L808.50,393.53Z" fill="#1e8270"/><path d="M822.90,404.41L825.30,416.48L808.50,418.14L808.50,405.83Z" fill="#087a70"/><path d="M825.30,416.48L827.71,428.55L808.50,430.44L808.50,418.14Z" fill="#7aa37a"/><path d="M827.71,428.55L830.11,440.62L808.50,442.75L808.50,430.44Z" fill="#3f9273"/><path d="M830.11,440.62L832.51,452.69L808.50,455.06L808.50,442.75Z" fill="#e1d5c8"/><path d="M832.51,452.69L834.91,464.76L808.50,467.36L808.50,455.06Z" fill="#e6e1de"/><path d="M834.91,464.76L837.31,476.83L808.50,479.67L808.50,467.36Z" fill="#e6e1de"/><path d="M837.31,476.83L839.71,488.90L808.50,491.97L808.50,479.67Z" fill="#efeef2"/><path d="M839.71,488.90L842.11,500.97L808.50,504.28L808.50,491.97Z" fill="#e6e1de"/><path d="M808.50,332.00L808.50,344.31L806.10,344.07L808.50,332.00Z" fill="#e4dbd3"/><path d="M808.50,344.31L808.50,356.61L803.70,356.14L806.10,344.07Z" fill="#dcc6a5"/><path d="M808.50,356.61L808.50,368.92L801.30,368.21L803.70,356.14Z" fill="#efeef2"/><path d="M808.50,368.92L808.50,381.22L798.90,380.28L801.30,368.21Z" fill="#7aa37a"/><path d="M808.50,381.22L808.50,393.53L796.50,392.35L798.90,380.28Z" fill="#3f9273"/><path d="M808.50,393.53L808.50,405.83L794.10,404.41L796.50,392.35Z" fill="#90ab80"/><path d="M808.50,405.83L808.50,418.14L791.70,416.48L794.10,404.41Z" fill="#7aa37a"/><path d="M808.50,418.14L808.50,430.44L789.29,428.55L791.70,416.48Z" fill="#e1d5c8"/><path d="M808.50,430.44L808.50,442.75L786.89,440.62L789.29,428.55Z" fill="#e1d5c8"/><path d="M808.50,332.00L806.10,344.07L803.79,343.37L808.50,332.00Z" fill="#e1d5c8"/><path d="M806.10,344.07L803.70,356.14L799.08,354.74L803.79,343.37Z" fill="#dcc6a5"/><path d="M803.70,356.14L801.30,368.21L794.37,366.11L799.08,354.74Z" fill="#e6e1de"/><path d="M801.30,368.21L798.90,380.28L789.66,377.48L794.37,366.11Z" fill="#e1d5c8"/><path d="M798.90,380.28L796.50,392.35L784.95,388.84L789.66,377.48Z" fill="#86a77c"/><path d="M796.50,392.35L794.10,404.41L780.25,400.21L784.95,388.84Z" fill="#e1d5c8"/><path d="M794.10,404.41L791.70,416.48L775.54,411.58L780.25,400.21Z" fill="#e1d5c8"/><path d="M791.70,416.48L789.29,428.55L770.83,422.95L775.54,411.58Z" fill="#e6e1de"/><path d="M808.50,332.00L803.79,343.37L801.66,342.23L808.50,332.00Z" fill="#e4dbd3"/><path d="M803.79,343.37L799.08,354.74L794.83,352.46L801.66,342.23Z" fill="#e1d5c8"/><path d="M799.08,354.74L794.37,366.11L787.99,362.70L794.83,352.46Z" fill="#dcc6a5"/><path d="M794.37,366.11L789.66,377.48L781.15,372.93L787.99,362.70Z" fill="#a8b085"/><path d="M789.66,377.48L784.95,388.84L774.32,383.16L781.15,372.93Z" fill="#dcc6a5"/><path d="M784.95,388.84L780.25,400.21L767.48,393.39L774.32,383.16Z" fill="#e1d5c8"/><path d="M780.25,400.21L775.54,411.58L760.64,403.62L767.48,393.39Z" fill="#e6e1de"/><path d="M808.50,332.00L801.66,342.23L799.80,340.70L808.50,332.00Z" fill="#e6e1de"/><path d="M801.66,342.23L794.83,352.46L791.10,349.40L799.80,340.70Z" fill="#e4dbd3"/><path d="M794.83,352.46L787.99,362.70L782.40,358.10L791.10,349.40Z" fill="#86a77c"/><path d="M787.99,362.70L781.15,372.93L773.69,366.81L782.40,358.10Z" fill="#e1d5c8"/><path d="M781.15,372.93L774.32,383.16L764.99,375.51L773.69,366.81Z" fill="#e1d5c8"/><path d="M774.32,383.16L767.48,393.39L756.29,384.21L764.99,375.51Z" fill="#e6e1de"/><path d="M808.50,332.00L799.80,340.70L798.27,338.84L808.50,332.00Z" fill="#e1d5c8"/><path d="M799.80,340.70L791.10,349.40L788.04,345.67L798.27,338.84Z" fill="#dcc6a5"/><path d="M791.10,349.40L782.40,358.10L777.80,352.51L788.04,345.67Z" fill="#e1d5c8"/><path d="M782.40,358.10L773.69,366.81L767.57,359.35L777.80,352.51Z" fill="#e4dbd3"/><path d="M773.69,366.81L764.99,375.51L757.34,366.18L767.57,359.35Z" fill="#dcc6a5"/><path d="M808.50,332.00L798.27,338.84L797.13,336.71L808.50,332.00Z" fill="#e6e1de"/><path d="M798.27,338.84L788.04,345.67L785.76,341.42L797.13,336.71Z" fill="#dcc6a5"/><path d="M788.04,345.67L777.80,352.51L774.39,346.13L785.76,341.42Z" fill="#e6e1de"/><path d="M777.80,352.51L767.57,359.35L763.02,350.84L774.39,346.13Z" fill="#e1d5c8"/><path d="M767.57,359.35L757.34,366.18L751.66,355.55L763.02,350.84Z" fill="#c7bb8f"/><path d="M757.34,366.18L747.11,373.02L740.29,360.25L751.66,355.55Z" fill="#e1d5c8"/><path d="M736.88,379.86L726.65,386.69L717.55,369.67L728.92,364.96Z" fill="#e6e1de"/><path d="M808.50,332.00L797.13,336.71L796.43,334.40L808.50,332.00Z" fill="#efeef2"/><path d="M797.13,336.71L785.76,341.42L784.36,336.80L796.43,334.40Z" fill="#90ab80"/><path d="M785.76,341.42L774.39,346.13L772.29,339.20L784.36,336.80Z" fill="#e6e1de"/><path d="M774.39,346.13L763.02,350.84L760.22,341.60L772.29,339.20Z" fill="#c7bb8f"/><path d="M763.02,350.84L751.66,355.55L748.15,344.00L760.22,341.60Z" fill="#efeef2"/><path d="M751.66,355.55L740.29,360.25L736.09,346.40L748.15,344.00Z" fill="#efeef2"/><path d="M740.29,360.25L728.92,364.96L724.02,348.80L736.09,346.40Z" fill="#e6e1de"/><path d="M808.50,332.00L796.43,334.40L796.19,332.00L808.50,332.00Z" fill="#efeef2"/><path d="M796.43,334.40L784.36,336.80L783.89,332.00L796.19,332.00Z" fill="#efeef2"/><path d="M784.36,336.80L772.29,339.20L771.58,332.00L783.89,332.00Z" fill="#e6e1de"/><path d="M772.29,339.20L760.22,341.60L759.28,332.00L771.58,332.00Z" fill="#c7bb8f"/><path d="M760.22,341.60L748.15,344.00L746.97,332.00L759.28,332.00Z" fill="#e6e1de"/><path d="M748.15,344.00L736.09,346.40L734.67,332.00L746.97,332.00Z" fill="#e6e1de"/><path d="M736.09,346.40L724.02,348.80L722.36,332.00L734.67,332.00Z" fill="#e6e1de"/><path d="M808.50,332.00L796.19,332.00L796.43,329.60L808.50,332.00Z" fill="#efeef2"/><path d="M796.19,332.00L783.89,332.00L784.36,327.20L796.43,329.60Z" fill="#efeef2"/><path d="M783.89,332.00L771.58,332.00L772.29,324.80L784.36,327.20Z" fill="#e6e1de"/><path d="M771.58,332.00L759.28,332.00L760.22,322.40L772.29,324.80Z" fill="#e6e1de"/><path d="M759.28,332.00L746.97,332.00L748.15,320.00L760.22,322.40Z" fill="#e1d5c8"/><path d="M746.97,332.00L734.67,332.00L736.09,317.60L748.15,320.00Z" fill="#dcc6a5"/><path d="M808.50,332.00L796.43,329.60L797.13,327.29L808.50,332.00Z" fill="#efeef2"/><path d="M796.43,329.60L784.36,327.20L785.76,322.58L797.13,327.29Z" fill="#efeef2"/><path d="M784.36,327.20L772.29,324.80L774.39,317.87L785.76,322.58Z" fill="#e1d5c8"/><path d="M772.29,324.80L760.22,322.40L763.02,313.16L774.39,317.87Z" fill="#dcc6a5"/><path d="M760.22,322.40L748.15,320.00L751.66,308.45L763.02,313.16Z" fill="#e6e1de"/><path d="M808.50,332.00L797.13,327.29L798.27,325.16L808.50,332.00Z" fill="#dfcfbb"/><path d="M797.13,327.29L785.76,322.58L788.04,318.33L798.27,325.16Z" fill="#efeef2"/><path d="M785.76,322.58L774.39,317.87L777.80,311.49L788.04,318.33Z" fill="#e6e1de"/><path d="M774.39,317.87L763.02,313.16L767.57,304.65L777.80,311.49Z" fill="#e1d5c8"/><path d="M728.92,299.04L717.55,294.33L726.65,277.31L736.88,284.14Z" fill="#e6e1de"/><path d="M808.50,332.00L798.27,325.16L799.80,323.30L808.50,332.00Z" fill="#efeef2"/><path d="M798.27,325.16L788.04,318.33L791.10,314.60L799.80,323.30Z" fill="#efeef2"/><path d="M788.04,318.33L777.80,311.49L782.40,305.90L791.10,314.60Z" fill="#e6e1de"/><path d="M777.80,311.49L767.57,304.65L773.69,297.19L782.40,305.90Z" fill="#e1d5c8"/><path d="M767.57,304.65L757.34,297.82L764.99,288.49L773.69,297.19Z" fill="#e6e1de"/><path d="M747.11,290.98L736.88,284.14L747.59,271.09L756.29,279.79Z" fill="#e6e1de"/><path d="M808.50,332.00L799.80,323.30L801.66,321.77L808.50,332.00Z" fill="#e1d5c8"/><path d="M799.80,323.30L791.10,314.60L794.83,311.54L801.66,321.77Z" fill="#e4dbd3"/><path d="M791.10,314.60L782.40,305.90L787.99,301.30L794.83,311.54Z" fill="#efeef2"/><path d="M782.40,305.90L773.69,297.19L781.15,291.07L787.99,301.30Z" fill="#e1d5c8"/><path d="M808.50,332.00L801.66,321.77L803.79,320.63L808.50,332.00Z" fill="#dfcfbb"/><path d="M801.66,321.77L794.83,311.54L799.08,309.26L803.79,320.63Z" fill="#dcc6a5"/><path d="M794.83,311.54L787.99,301.30L794.37,297.89L799.08,309.26Z" fill="#efeef2"/><path d="M787.99,301.30L781.15,291.07L789.66,286.52L794.37,297.89Z" fill="#dfcfbb"/><path d="M781.15,291.07L774.32,280.84L784.95,275.16L789.66,286.52Z" fill="#e6e1de"/><path d="M808.50,332.00L803.79,320.63L806.10,319.93L808.50,332.00Z" fill="#e6e1de"/><path d="M803.79,320.63L799.08,309.26L803.70,307.86L806.10,319.93Z" fill="#e1d5c8"/><path d="M799.08,309.26L794.37,297.89L801.30,295.79L803.70,307.86Z" fill="#e6e1de"/><path d="M794.37,297.89L789.66,286.52L798.90,283.72L801.30,295.79Z" fill="#e1d5c8"/><path d="M808.50,332.00L806.10,319.93L808.50,319.69L808.50,332.00Z" fill="#efeef2"/><path d="M806.10,319.93L803.70,307.86L808.50,307.39L808.50,319.69Z" fill="#e1d5c8"/><path d="M803.70,307.86L801.30,295.79L808.50,295.08L808.50,307.39Z" fill="#efeef2"/><path d="M801.30,295.79L798.90,283.72L808.50,282.78L808.50,295.08Z" fill="#e1d5c8"/></g>
<g fill="none" stroke="#b0b0b0" stroke-width="1.05"><circle cx="808.50" cy="332.00" r="44.30"/><circle cx="808.50" cy="332.00" r="88.60"/><circle cx="808.50" cy="332.00" r="132.90"/><circle cx="808.50" cy="332.00" r="177.20"/><circle cx="808.50" cy="332.00" r="221.50"/><line x1="808.50" y1="332.00" x2="808.50" y2="97.60"/><line x1="808.50" y1="332.00" x2="974.25" y2="166.25"/><line x1="808.50" y1="332.50" x2="1042.90" y2="332.50"/><line x1="808.50" y1="332.00" x2="974.25" y2="497.75"/><line x1="808.50" y1="332.00" x2="808.50" y2="566.40"/><line x1="808.50" y1="332.00" x2="642.75" y2="497.75"/><line x1="808.50" y1="332.50" x2="574.10" y2="332.50"/><line x1="808.50" y1="332.00" x2="642.75" y2="166.25"/></g>
<circle cx="808.50" cy="332.00" r="234.40" fill="none" stroke="#000" stroke-width="1.1"/>
<text x="801.66" y="83.90" font-size="19.77" textLength="13.27" lengthAdjust="spacingAndGlyphs">N</text>
<text x="802.57" y="591.50" font-size="19.77" textLength="11.06" lengthAdjust="spacingAndGlyphs">S</text>
<text x="1056.71" y="337.60" font-size="19.77" textLength="10.75" lengthAdjust="spacingAndGlyphs">E</text>
<text x="545.94" y="337.60" font-size="19.77" textLength="17.31" lengthAdjust="spacingAndGlyphs">W</text>
<text x="849.59" y="310.95" font-size="19.77" textLength="28.31" lengthAdjust="spacingAndGlyphs">0.2</text>
<text x="890.09" y="293.99" font-size="19.77" textLength="28.72" lengthAdjust="spacingAndGlyphs">0.4</text>
<text x="931.08" y="277.04" font-size="19.77" textLength="28.91" lengthAdjust="spacingAndGlyphs">0.6</text>
<text x="972.06" y="260.09" font-size="19.77" textLength="28.79" lengthAdjust="spacingAndGlyphs">0.8</text>
<text x="1012.62" y="243.14" font-size="19.77" textLength="28.68" lengthAdjust="spacingAndGlyphs">1.0</text>
<circle cx="1342.50" cy="332.00" r="234.40" fill="#ECEBF2"/>
<g shape-rendering="crispEdges"><path d="M1342.50,332.00L1342.50,319.69L1344.90,319.93L1342.50,332.00Z" fill="#efeef2"/><path d="M1342.50,319.69L1342.50,307.39L1347.30,307.86L1344.90,319.93Z" fill="#c7bb8f"/><path d="M1342.50,307.39L1342.50,295.08L1349.70,295.79L1347.30,307.86Z" fill="#e6e1de"/><path d="M1342.50,295.08L1342.50,282.78L1352.10,283.72L1349.70,295.79Z" fill="#86a77c"/><path d="M1342.50,282.78L1342.50,270.47L1354.50,271.65L1352.10,283.72Z" fill="#e1d5c8"/><path d="M1342.50,270.47L1342.50,258.17L1356.90,259.59L1354.50,271.65Z" fill="#c7bb8f"/><path d="M1342.50,258.17L1342.50,245.86L1359.30,247.52L1356.90,259.59Z" fill="#dcc6a5"/><path d="M1342.50,245.86L1342.50,233.56L1361.71,235.45L1359.30,247.52Z" fill="#e1d5c8"/><path d="M1342.50,233.56L1342.50,221.25L1364.11,223.38L1361.71,235.45Z" fill="#e1d5c8"/><path d="M1342.50,221.25L1342.50,208.94L1366.51,211.31L1364.11,223.38Z" fill="#e6e1de"/><path d="M1342.50,208.94L1342.50,196.64L1368.91,199.24L1366.51,211.31Z" fill="#e6e1de"/><path d="M1342.50,332.00L1344.90,319.93L1347.21,320.63L1342.50,332.00Z" fill="#efeef2"/><path d="M1344.90,319.93L1347.30,307.86L1351.92,309.26L1347.21,320.63Z" fill="#e1d5c8"/><path d="M1347.30,307.86L1349.70,295.79L1356.63,297.89L1351.92,309.26Z" fill="#efeef2"/><path d="M1349.70,295.79L1352.10,283.72L1361.34,286.52L1356.63,297.89Z" fill="#e1d5c8"/><path d="M1352.10,283.72L1354.50,271.65L1366.05,275.16L1361.34,286.52Z" fill="#e1d5c8"/><path d="M1354.50,271.65L1356.90,259.59L1370.75,263.79L1366.05,275.16Z" fill="#96ad81"/><path d="M1356.90,259.59L1359.30,247.52L1375.46,252.42L1370.75,263.79Z" fill="#dcc6a5"/><path d="M1359.30,247.52L1361.71,235.45L1380.17,241.05L1375.46,252.42Z" fill="#e6e1de"/><path d="M1361.71,235.45L1364.11,223.38L1384.88,229.68L1380.17,241.05Z" fill="#dcc6a5"/><path d="M1364.11,223.38L1366.51,211.31L1389.59,218.31L1384.88,229.68Z" fill="#e6e1de"/><path d="M1342.50,332.00L1347.21,320.63L1349.34,321.77L1342.50,332.00Z" fill="#efeef2"/><path d="M1347.21,320.63L1351.92,309.26L1356.17,311.54L1349.34,321.77Z" fill="#efeef2"/><path d="M1351.92,309.26L1356.63,297.89L1363.01,301.30L1356.17,311.54Z" fill="#dcc6a5"/><path d="M1356.63,297.89L1361.34,286.52L1369.85,291.07L1363.01,301.30Z" fill="#e6e1de"/><path d="M1361.34,286.52L1366.05,275.16L1376.68,280.84L1369.85,291.07Z" fill="#e6e1de"/><path d="M1366.05,275.16L1370.75,263.79L1383.52,270.61L1376.68,280.84Z" fill="#dcc6a5"/><path d="M1370.75,263.79L1375.46,252.42L1390.36,260.38L1383.52,270.61Z" fill="#efeef2"/><path d="M1375.46,252.42L1380.17,241.05L1397.19,250.15L1390.36,260.38Z" fill="#e6e1de"/><path d="M1342.50,332.00L1349.34,321.77L1351.20,323.30L1342.50,332.00Z" fill="#efeef2"/><path d="M1349.34,321.77L1356.17,311.54L1359.90,314.60L1351.20,323.30Z" fill="#efeef2"/><path d="M1356.17,311.54L1363.01,301.30L1368.60,305.90L1359.90,314.60Z" fill="#e4dbd3"/><path d="M1363.01,301.30L1369.85,291.07L1377.31,297.19L1368.60,305.90Z" fill="#e1d5c8"/><path d="M1369.85,291.07L1376.68,280.84L1386.01,288.49L1377.31,297.19Z" fill="#86a77c"/><path d="M1376.68,280.84L1383.52,270.61L1394.71,279.79L1386.01,288.49Z" fill="#e1d5c8"/><path d="M1383.52,270.61L1390.36,260.38L1403.41,271.09L1394.71,279.79Z" fill="#e6e1de"/><path d="M1390.36,260.38L1397.19,250.15L1412.11,262.39L1403.41,271.09Z" fill="#e6e1de"/><path d="M1342.50,332.00L1351.20,323.30L1352.73,325.16L1342.50,332.00Z" fill="#efeef2"/><path d="M1351.20,323.30L1359.90,314.60L1362.96,318.33L1352.73,325.16Z" fill="#efeef2"/><path d="M1359.90,314.60L1368.60,305.90L1373.20,311.49L1362.96,318.33Z" fill="#e6e1de"/><path d="M1368.60,305.90L1377.31,297.19L1383.43,304.65L1373.20,311.49Z" fill="#e1d5c8"/><path d="M1377.31,297.19L1386.01,288.49L1393.66,297.82L1383.43,304.65Z" fill="#dcc6a5"/><path d="M1386.01,288.49L1394.71,279.79L1403.89,290.98L1393.66,297.82Z" fill="#e6e1de"/><path d="M1394.71,279.79L1403.41,271.09L1414.12,284.14L1403.89,290.98Z" fill="#e6e1de"/><path d="M1342.50,332.00L1352.73,325.16L1353.87,327.29L1342.50,332.00Z" fill="#efeef2"/><path d="M1352.73,325.16L1362.96,318.33L1365.24,322.58L1353.87,327.29Z" fill="#e1d5c8"/><path d="M1362.96,318.33L1373.20,311.49L1376.61,317.87L1365.24,322.58Z" fill="#dcc6a5"/><path d="M1373.20,311.49L1383.43,304.65L1387.98,313.16L1376.61,317.87Z" fill="#e1d5c8"/><path d="M1383.43,304.65L1393.66,297.82L1399.34,308.45L1387.98,313.16Z" fill="#e6e1de"/><path d="M1393.66,297.82L1403.89,290.98L1410.71,303.75L1399.34,308.45Z" fill="#e6e1de"/><path d="M1403.89,290.98L1414.12,284.14L1422.08,299.04L1410.71,303.75Z" fill="#e1d5c8"/><path d="M1342.50,332.00L1353.87,327.29L1354.57,329.60L1342.50,332.00Z" fill="#e6e1de"/><path d="M1353.87,327.29L1365.24,322.58L1366.64,327.20L1354.57,329.60Z" fill="#e4dbd3"/><path d="M1365.24,322.58L1376.61,317.87L1378.71,324.80L1366.64,327.20Z" fill="#e1d5c8"/><path d="M1376.61,317.87L1387.98,313.16L1390.78,322.40L1378.71,324.80Z" fill="#efeef2"/><path d="M1387.98,313.16L1399.34,308.45L1402.85,320.00L1390.78,322.40Z" fill="#e1d5c8"/><path d="M1399.34,308.45L1410.71,303.75L1414.91,317.60L1402.85,320.00Z" fill="#e6e1de"/><path d="M1342.50,332.00L1354.57,329.60L1354.81,332.00L1342.50,332.00Z" fill="#e4dbd3"/><path d="M1354.57,329.60L1366.64,327.20L1367.11,332.00L1354.81,332.00Z" fill="#e1d5c8"/><path d="M1366.64,327.20L1378.71,324.80L1379.42,332.00L1367.11,332.00Z" fill="#e1d5c8"/><path d="M1378.71,324.80L1390.78,322.40L1391.72,332.00L1379.42,332.00Z" fill="#e1d5c8"/><path d="M1390.78,322.40L1402.85,320.00L1404.03,332.00L1391.72,332.00Z" fill="#e6e1de"/><path d="M1342.50,332.00L1354.81,332.00L1354.57,334.40L1342.50,332.00Z" fill="#e4dbd3"/><path d="M1354.81,332.00L1367.11,332.00L1366.64,336.80L1354.57,334.40Z" fill="#e1d5c8"/><path d="M1367.11,332.00L1379.42,332.00L1378.71,339.20L1366.64,336.80Z" fill="#e1d5c8"/><path d="M1379.42,332.00L1391.72,332.00L1390.78,341.60L1378.71,339.20Z" fill="#e6e1de"/><path d="M1391.72,332.00L1404.03,332.00L1402.85,344.00L1390.78,341.60Z" fill="#dfcfbb"/><path d="M1404.03,332.00L1416.33,332.00L1414.91,346.40L1402.85,344.00Z" fill="#e6e1de"/><path d="M1416.33,332.00L1428.64,332.00L1426.98,348.80L1414.91,346.40Z" fill="#e6e1de"/><path d="M1342.50,332.00L1354.57,334.40L1353.87,336.71L1342.50,332.00Z" fill="#efeef2"/><path d="M1354.57,334.40L1366.64,336.80L1365.24,341.42L1353.87,336.71Z" fill="#e4dbd3"/><path d="M1366.64,336.80L1378.71,339.20L1376.61,346.13L1365.24,341.42Z" fill="#e4dbd3"/><path d="M1378.71,339.20L1390.78,341.60L1387.98,350.84L1376.61,346.13Z" fill="#e6e1de"/><path d="M1390.78,341.60L1402.85,344.00L1399.34,355.55L1387.98,350.84Z" fill="#e6e1de"/><path d="M1402.85,344.00L1414.91,346.40L1410.71,360.25L1399.34,355.55Z" fill="#e6e1de"/><path d="M1414.91,346.40L1426.98,348.80L1422.08,364.96L1410.71,360.25Z" fill="#e6e1de"/><path d="M1426.98,348.80L1439.05,351.21L1433.45,369.67L1422.08,364.96Z" fill="#e6e1de"/><path d="M1439.05,351.21L1451.12,353.61L1444.82,374.38L1433.45,369.67Z" fill="#dcc6a5"/><path d="M1342.50,332.00L1353.87,336.71L1352.73,338.84L1342.50,332.00Z" fill="#efeef2"/><path d="M1353.87,336.71L1365.24,341.42L1362.96,345.67L1352.73,338.84Z" fill="#dfcfbb"/><path d="M1365.24,341.42L1376.61,346.13L1373.20,352.51L1362.96,345.67Z" fill="#e1d5c8"/><path d="M1376.61,346.13L1387.98,350.84L1383.43,359.35L1373.20,352.51Z" fill="#e6e1de"/><path d="M1387.98,350.84L1399.34,355.55L1393.66,366.18L1383.43,359.35Z" fill="#e1d5c8"/><path d="M1399.34,355.55L1410.71,360.25L1403.89,373.02L1393.66,366.18Z" fill="#efeef2"/><path d="M1410.71,360.25L1422.08,364.96L1414.12,379.86L1403.89,373.02Z" fill="#efeef2"/><path d="M1456.19,379.09L1467.56,383.80L1455.05,407.20L1444.82,400.37Z" fill="#e1d5c8"/><path d="M1342.50,332.00L1352.73,338.84L1351.20,340.70L1342.50,332.00Z" fill="#efeef2"/><path d="M1352.73,338.84L1362.96,345.67L1359.90,349.40L1351.20,340.70Z" fill="#e4dbd3"/><path d="M1362.96,345.67L1373.20,352.51L1368.60,358.10L1359.90,349.40Z" fill="#a8b085"/><path d="M1373.20,352.51L1383.43,359.35L1377.31,366.81L1368.60,358.10Z" fill="#e6e1de"/><path d="M1383.43,359.35L1393.66,366.18L1386.01,375.51L1377.31,366.81Z" fill="#e6e1de"/><path d="M1393.66,366.18L1403.89,373.02L1394.71,384.21L1386.01,375.51Z" fill="#e1d5c8"/><path d="M1403.89,373.02L1414.12,379.86L1403.41,392.91L1394.71,384.21Z" fill="#e6e1de"/><path d="M1414.12,379.86L1424.35,386.69L1412.11,401.61L1403.41,392.91Z" fill="#efeef2"/><path d="M1434.59,393.53L1444.82,400.37L1429.51,419.01L1420.81,410.31Z" fill="#e1d5c8"/><path d="M1465.28,414.04L1475.51,420.88L1455.62,445.12L1446.92,436.42Z" fill="#e6e1de"/><path d="M1342.50,332.00L1351.20,340.70L1349.34,342.23L1342.50,332.00Z" fill="#efeef2"/><path d="M1351.20,340.70L1359.90,349.40L1356.17,352.46L1349.34,342.23Z" fill="#efeef2"/><path d="M1359.90,349.40L1368.60,358.10L1363.01,362.70L1356.17,352.46Z" fill="#dcc6a5"/><path d="M1368.60,358.10L1377.31,366.81L1369.85,372.93L1363.01,362.70Z" fill="#e1d5c8"/><path d="M1377.31,366.81L1386.01,375.51L1376.68,383.16L1369.85,372.93Z" fill="#dcc6a5"/><path d="M1386.01,375.51L1394.71,384.21L1383.52,393.39L1376.68,383.16Z" fill="#dcc6a5"/><path d="M1394.71,384.21L1403.41,392.91L1390.36,403.62L1383.52,393.39Z" fill="#efeef2"/><path d="M1403.41,392.91L1412.11,401.61L1397.19,413.85L1390.36,403.62Z" fill="#e6e1de"/><path d="M1446.92,436.42L1455.62,445.12L1431.38,465.01L1424.54,454.78Z" fill="#e6e1de"/><path d="M1342.50,332.00L1349.34,342.23L1347.21,343.37L1342.50,332.00Z" fill="#efeef2"/><path d="M1349.34,342.23L1356.17,352.46L1351.92,354.74L1347.21,343.37Z" fill="#e1d5c8"/><path d="M1356.17,352.46L1363.01,362.70L1356.63,366.11L1351.92,354.74Z" fill="#e1d5c8"/><path d="M1363.01,362.70L1369.85,372.93L1361.34,377.48L1356.63,366.11Z" fill="#e6e1de"/><path d="M1369.85,372.93L1376.68,383.16L1366.05,388.84L1361.34,377.48Z" fill="#efeef2"/><path d="M1376.68,383.16L1383.52,393.39L1370.75,400.21L1366.05,388.84Z" fill="#e1d5c8"/><path d="M1383.52,393.39L1390.36,403.62L1375.46,411.58L1370.75,400.21Z" fill="#a8b085"/><path d="M1390.36,403.62L1397.19,413.85L1380.17,422.95L1375.46,411.58Z" fill="#e6e1de"/><path d="M1397.19,413.85L1404.03,424.09L1384.88,434.32L1380.17,422.95Z" fill="#e6e1de"/><path d="M1410.87,434.32L1417.70,444.55L1394.30,457.06L1389.59,445.69Z" fill="#e6e1de"/><path d="M1417.70,444.55L1424.54,454.78L1399.01,468.43L1394.30,457.06Z" fill="#e1d5c8"/><path d="M1342.50,332.00L1347.21,343.37L1344.90,344.07L1342.50,332.00Z" fill="#e1d5c8"/><path d="M1347.21,343.37L1351.92,354.74L1347.30,356.14L1344.90,344.07Z" fill="#dcc6a5"/><path d="M1351.92,354.74L1356.63,366.11L1349.70,368.21L1347.30,356.14Z" fill="#efeef2"/><path d="M1356.63,366.11L1361.34,377.48L1352.10,380.28L1349.70,368.21Z" fill="#e6e1de"/><path d="M1361.34,377.48L1366.05,388.84L1354.50,392.35L1352.10,380.28Z" fill="#e1d5c8"/><path d="M1366.05,388.84L1370.75,400.21L1356.90,404.41L1354.50,392.35Z" fill="#e1d5c8"/><path d="M1370.75,400.21L1375.46,411.58L1359.30,416.48L1356.90,404.41Z" fill="#dcc6a5"/><path d="M1375.46,411.58L1380.17,422.95L1361.71,428.55L1359.30,416.48Z" fill="#a8b085"/><path d="M1380.17,422.95L1384.88,434.32L1364.11,440.62L1361.71,428.55Z" fill="#e6e1de"/><path d="M1389.59,445.69L1394.30,457.06L1368.91,464.76L1366.51,452.69Z" fill="#e6e1de"/><path d="M1403.72,479.80L1408.43,491.16L1376.11,500.97L1373.71,488.90Z" fill="#e6e1de"/><path d="M1342.50,332.00L1344.90,344.07L1342.50,344.31L1342.50,332.00Z" fill="#e4dbd3"/><path d="M1344.90,344.07L1347.30,356.14L1342.50,356.61L1342.50,344.31Z" fill="#e4dbd3"/><path d="M1347.30,356.14L1349.70,368.21L1342.50,368.92L1342.50,356.61Z" fill="#e1d5c8"/><path d="M1349.70,368.21L1352.10,380.28L1342.50,381.22L1342.50,368.92Z" fill="#e6e1de"/><path d="M1352.10,380.28L1354.50,392.35L1342.50,393.53L1342.50,381.22Z" fill="#e1d5c8"/><path d="M1354.50,392.35L1356.90,404.41L1342.50,405.83L1342.50,393.53Z" fill="#e1d5c8"/><path d="M1356.90,404.41L1359.30,416.48L1342.50,418.14L1342.50,405.83Z" fill="#c7bb8f"/><path d="M1359.30,416.48L1361.71,428.55L1342.50,430.44L1342.50,418.14Z" fill="#e6e1de"/><path d="M1361.71,428.55L1364.11,440.62L1342.50,442.75L1342.50,430.44Z" fill="#e1d5c8"/><path d="M1364.11,440.62L1366.51,452.69L1342.50,455.06L1342.50,442.75Z" fill="#e6e1de"/><path d="M1342.50,332.00L1342.50,344.31L1340.10,344.07L1342.50,332.00Z" fill="#efeef2"/><path d="M1342.50,344.31L1342.50,356.61L1337.70,356.14L1340.10,344.07Z" fill="#e1d5c8"/><path d="M1342.50,356.61L1342.50,368.92L1335.30,368.21L1337.70,356.14Z" fill="#e1d5c8"/><path d="M1342.50,368.92L1342.50,381.22L1332.90,380.28L1335.30,368.21Z" fill="#dcc6a5"/><path d="M1342.50,381.22L1342.50,393.53L1330.50,392.35L1332.90,380.28Z" fill="#e1d5c8"/><path d="M1342.50,393.53L1342.50,405.83L1328.10,404.41L1330.50,392.35Z" fill="#e6e1de"/><path d="M1342.50,405.83L1342.50,418.14L1325.70,416.48L1328.10,404.41Z" fill="#e1d5c8"/><path d="M1342.50,418.14L1342.50,430.44L1323.29,428.55L1325.70,416.48Z" fill="#e6e1de"/><path d="M1342.50,430.44L1342.50,442.75L1320.89,440.62L1323.29,428.55Z" fill="#e6e1de"/><path d="M1342.50,455.06L1342.50,467.36L1316.09,464.76L1318.49,452.69Z" fill="#e6e1de"/><path d="M1342.50,332.00L1340.10,344.07L1337.79,343.37L1342.50,332.00Z" fill="#efeef2"/><path d="M1340.10,344.07L1337.70,356.14L1333.08,354.74L1337.79,343.37Z" fill="#efeef2"/><path d="M1337.70,356.14L1335.30,368.21L1328.37,366.11L1333.08,354.74Z" fill="#9cae82"/><path d="M1335.30,368.21L1332.90,380.28L1323.66,377.48L1328.37,366.11Z" fill="#e1d5c8"/><path d="M1332.90,380.28L1330.50,392.35L1318.95,388.84L1323.66,377.48Z" fill="#efeef2"/><path d="M1330.50,392.35L1328.10,404.41L1314.25,400.21L1318.95,388.84Z" fill="#86a77c"/><path d="M1328.10,404.41L1325.70,416.48L1309.54,411.58L1314.25,400.21Z" fill="#e1d5c8"/><path d="M1325.70,416.48L1323.29,428.55L1304.83,422.95L1309.54,411.58Z" fill="#e6e1de"/><path d="M1323.29,428.55L1320.89,440.62L1300.12,434.32L1304.83,422.95Z" fill="#e6e1de"/><path d="M1318.49,452.69L1316.09,464.76L1290.70,457.06L1295.41,445.69Z" fill="#e6e1de"/><path d="M1342.50,332.00L1337.79,343.37L1335.66,342.23L1342.50,332.00Z" fill="#efeef2"/><path d="M1337.79,343.37L1333.08,354.74L1328.83,352.46L1335.66,342.23Z" fill="#7aa37a"/><path d="M1333.08,354.74L1328.37,366.11L1321.99,362.70L1328.83,352.46Z" fill="#efeef2"/><path d="M1328.37,366.11L1323.66,377.48L1315.15,372.93L1321.99,362.70Z" fill="#e6e1de"/><path d="M1323.66,377.48L1318.95,388.84L1308.32,383.16L1315.15,372.93Z" fill="#e1d5c8"/><path d="M1318.95,388.84L1314.25,400.21L1301.48,393.39L1308.32,383.16Z" fill="#e1d5c8"/><path d="M1314.25,400.21L1309.54,411.58L1294.64,403.62L1301.48,393.39Z" fill="#dcc6a5"/><path d="M1309.54,411.58L1304.83,422.95L1287.81,413.85L1294.64,403.62Z" fill="#e6e1de"/><path d="M1304.83,422.95L1300.12,434.32L1280.97,424.09L1287.81,413.85Z" fill="#e6e1de"/><path d="M1300.12,434.32L1295.41,445.69L1274.13,434.32L1280.97,424.09Z" fill="#e6e1de"/><path d="M1342.50,332.00L1335.66,342.23L1333.80,340.70L1342.50,332.00Z" fill="#efeef2"/><path d="M1335.66,342.23L1328.83,352.46L1325.10,349.40L1333.80,340.70Z" fill="#efeef2"/><path d="M1328.83,352.46L1321.99,362.70L1316.40,358.10L1325.10,349.40Z" fill="#efeef2"/><path d="M1321.99,362.70L1315.15,372.93L1307.69,366.81L1316.40,358.10Z" fill="#e6e1de"/><path d="M1315.15,372.93L1308.32,383.16L1298.99,375.51L1307.69,366.81Z" fill="#e1d5c8"/><path d="M1308.32,383.16L1301.48,393.39L1290.29,384.21L1298.99,375.51Z" fill="#a8b085"/><path d="M1301.48,393.39L1294.64,403.62L1281.59,392.91L1290.29,384.21Z" fill="#e1d5c8"/><path d="M1294.64,403.62L1287.81,413.85L1272.89,401.61L1281.59,392.91Z" fill="#dcc6a5"/><path d="M1287.81,413.85L1280.97,424.09L1264.19,410.31L1272.89,401.61Z" fill="#e6e1de"/><path d="M1342.50,332.00L1333.80,340.70L1332.27,338.84L1342.50,332.00Z" fill="#efeef2"/><path d="M1333.80,340.70L1325.10,349.40L1322.04,345.67L1332.27,338.84Z" fill="#efeef2"/><path d="M1325.10,349.40L1316.40,358.10L1311.80,352.51L1322.04,345.67Z" fill="#e6e1de"/><path d="M1316.40,358.10L1307.69,366.81L1301.57,359.35L1311.80,352.51Z" fill="#e6e1de"/><path d="M1307.69,366.81L1298.99,375.51L1291.34,366.18L1301.57,359.35Z" fill="#a8b085"/><path d="M1298.99,375.51L1290.29,384.21L1281.11,373.02L1291.34,366.18Z" fill="#dcc6a5"/><path d="M1290.29,384.21L1281.59,392.91L1270.88,379.86L1281.11,373.02Z" fill="#c7bb8f"/><path d="M1281.59,392.91L1272.89,401.61L1260.65,386.69L1270.88,379.86Z" fill="#efeef2"/><path d="M1264.19,410.31L1255.49,419.01L1240.18,400.37L1250.41,393.53Z" fill="#e6e1de"/><path d="M1255.49,419.01L1246.79,427.71L1229.95,407.20L1240.18,400.37Z" fill="#e6e1de"/><path d="M1246.79,427.71L1238.08,436.42L1219.72,414.04L1229.95,407.20Z" fill="#e6e1de"/><path d="M1342.50,332.00L1332.27,338.84L1331.13,336.71L1342.50,332.00Z" fill="#efeef2"/><path d="M1332.27,338.84L1322.04,345.67L1319.76,341.42L1331.13,336.71Z" fill="#efeef2"/><path d="M1322.04,345.67L1311.80,352.51L1308.39,346.13L1319.76,341.42Z" fill="#efeef2"/><path d="M1311.80,352.51L1301.57,359.35L1297.02,350.84L1308.39,346.13Z" fill="#e1d5c8"/><path d="M1301.57,359.35L1291.34,366.18L1285.66,355.55L1297.02,350.84Z" fill="#dcc6a5"/><path d="M1291.34,366.18L1281.11,373.02L1274.29,360.25L1285.66,355.55Z" fill="#e6e1de"/><path d="M1281.11,373.02L1270.88,379.86L1262.92,364.96L1274.29,360.25Z" fill="#e6e1de"/><path d="M1270.88,379.86L1260.65,386.69L1251.55,369.67L1262.92,364.96Z" fill="#e1d5c8"/><path d="M1260.65,386.69L1250.41,393.53L1240.18,374.38L1251.55,369.67Z" fill="#e6e1de"/><path d="M1250.41,393.53L1240.18,400.37L1228.81,379.09L1240.18,374.38Z" fill="#e1d5c8"/><path d="M1240.18,400.37L1229.95,407.20L1217.44,383.80L1228.81,379.09Z" fill="#e6e1de"/><path d="M1342.50,332.00L1331.13,336.71L1330.43,334.40L1342.50,332.00Z" fill="#e4dbd3"/><path d="M1331.13,336.71L1319.76,341.42L1318.36,336.80L1330.43,334.40Z" fill="#dcc6a5"/><path d="M1319.76,341.42L1308.39,346.13L1306.29,339.20L1318.36,336.80Z" fill="#c7bb8f"/><path d="M1308.39,346.13L1297.02,350.84L1294.22,341.60L1306.29,339.20Z" fill="#e4dbd3"/><path d="M1297.02,350.84L1285.66,355.55L1282.15,344.00L1294.22,341.60Z" fill="#e1d5c8"/><path d="M1285.66,355.55L1274.29,360.25L1270.09,346.40L1282.15,344.00Z" fill="#e6e1de"/><path d="M1274.29,360.25L1262.92,364.96L1258.02,348.80L1270.09,346.40Z" fill="#e6e1de"/><path d="M1262.92,364.96L1251.55,369.67L1245.95,351.21L1258.02,348.80Z" fill="#e1d5c8"/><path d="M1251.55,369.67L1240.18,374.38L1233.88,353.61L1245.95,351.21Z" fill="#e6e1de"/><path d="M1342.50,332.00L1330.43,334.40L1330.19,332.00L1342.50,332.00Z" fill="#e4dbd3"/><path d="M1330.43,334.40L1318.36,336.80L1317.89,332.00L1330.19,332.00Z" fill="#e4dbd3"/><path d="M1318.36,336.80L1306.29,339.20L1305.58,332.00L1317.89,332.00Z" fill="#e1d5c8"/><path d="M1306.29,339.20L1294.22,341.60L1293.28,332.00L1305.58,332.00Z" fill="#dcc6a5"/><path d="M1294.22,341.60L1282.15,344.00L1280.97,332.00L1293.28,332.00Z" fill="#e6e1de"/><path d="M1282.15,344.00L1270.09,346.40L1268.67,332.00L1280.97,332.00Z" fill="#dcc6a5"/><path d="M1270.09,346.40L1258.02,348.80L1256.36,332.00L1268.67,332.00Z" fill="#e1d5c8"/><path d="M1258.02,348.80L1245.95,351.21L1244.06,332.00L1256.36,332.00Z" fill="#efeef2"/><path d="M1245.95,351.21L1233.88,353.61L1231.75,332.00L1244.06,332.00Z" fill="#e6e1de"/><path d="M1342.50,332.00L1330.19,332.00L1330.43,329.60L1342.50,332.00Z" fill="#efeef2"/><path d="M1330.19,332.00L1317.89,332.00L1318.36,327.20L1330.43,329.60Z" fill="#e1d5c8"/><path d="M1317.89,332.00L1305.58,332.00L1306.29,324.80L1318.36,327.20Z" fill="#e6e1de"/><path d="M1305.58,332.00L1293.28,332.00L1294.22,322.40L1306.29,324.80Z" fill="#e6e1de"/><path d="M1293.28,332.00L1280.97,332.00L1282.15,320.00L1294.22,322.40Z" fill="#e1d5c8"/><path d="M1280.97,332.00L1268.67,332.00L1270.09,317.60L1282.15,320.00Z" fill="#dcc6a5"/><path d="M1268.67,332.00L1256.36,332.00L1258.02,315.20L1270.09,317.60Z" fill="#a8b085"/><path d="M1256.36,332.00L1244.06,332.00L1245.95,312.79L1258.02,315.20Z" fill="#e1d5c8"/><path d="M1244.06,332.00L1231.75,332.00L1233.88,310.39L1245.95,312.79Z" fill="#efeef2"/><path d="M1231.75,332.00L1219.44,332.00L1221.81,307.99L1233.88,310.39Z" fill="#efeef2"/><path d="M1219.44,332.00L1207.14,332.00L1209.74,305.59L1221.81,307.99Z" fill="#e6e1de"/><path d="M1342.50,332.00L1330.43,329.60L1331.13,327.29L1342.50,332.00Z" fill="#efeef2"/><path d="M1330.43,329.60L1318.36,327.20L1319.76,322.58L1331.13,327.29Z" fill="#e1d5c8"/><path d="M1318.36,327.20L1306.29,324.80L1308.39,317.87L1319.76,322.58Z" fill="#e1d5c8"/><path d="M1306.29,324.80L1294.22,322.40L1297.02,313.16L1308.39,317.87Z" fill="#a8b085"/><path d="M1294.22,322.40L1282.15,320.00L1285.66,308.45L1297.02,313.16Z" fill="#a8b085"/><path d="M1282.15,320.00L1270.09,317.60L1274.29,303.75L1285.66,308.45Z" fill="#e1d5c8"/><path d="M1270.09,317.60L1258.02,315.20L1262.92,299.04L1274.29,303.75Z" fill="#dcc6a5"/><path d="M1258.02,315.20L1245.95,312.79L1251.55,294.33L1262.92,299.04Z" fill="#e1d5c8"/><path d="M1245.95,312.79L1233.88,310.39L1240.18,289.62L1251.55,294.33Z" fill="#e6e1de"/><path d="M1233.88,310.39L1221.81,307.99L1228.81,284.91L1240.18,289.62Z" fill="#e6e1de"/><path d="M1221.81,307.99L1209.74,305.59L1217.44,280.20L1228.81,284.91Z" fill="#e6e1de"/><path d="M1342.50,332.00L1331.13,327.29L1332.27,325.16L1342.50,332.00Z" fill="#efeef2"/><path d="M1331.13,327.29L1319.76,322.58L1322.04,318.33L1332.27,325.16Z" fill="#efeef2"/><path d="M1319.76,322.58L1308.39,317.87L1311.80,311.49L1322.04,318.33Z" fill="#c7bb8f"/><path d="M1308.39,317.87L1297.02,313.16L1301.57,304.65L1311.80,311.49Z" fill="#86a77c"/><path d="M1297.02,313.16L1285.66,308.45L1291.34,297.82L1301.57,304.65Z" fill="#7aa37a"/><path d="M1285.66,308.45L1274.29,303.75L1281.11,290.98L1291.34,297.82Z" fill="#a8b085"/><path d="M1274.29,303.75L1262.92,299.04L1270.88,284.14L1281.11,290.98Z" fill="#087a70"/><path d="M1262.92,299.04L1251.55,294.33L1260.65,277.31L1270.88,284.14Z" fill="#e1d5c8"/><path d="M1251.55,294.33L1240.18,289.62L1250.41,270.47L1260.65,277.31Z" fill="#90ab80"/><path d="M1240.18,289.62L1228.81,284.91L1240.18,263.63L1250.41,270.47Z" fill="#e6e1de"/><path d="M1228.81,284.91L1217.44,280.20L1229.95,256.80L1240.18,263.63Z" fill="#efeef2"/><path d="M1217.44,280.20L1206.07,275.49L1219.72,249.96L1229.95,256.80Z" fill="#e1d5c8"/><path d="M1342.50,332.00L1332.27,325.16L1333.80,323.30L1342.50,332.00Z" fill="#efeef2"/><path d="M1332.27,325.16L1322.04,318.33L1325.10,314.60L1333.80,323.30Z" fill="#e4dbd3"/><path d="M1322.04,318.33L1311.80,311.49L1316.40,305.90L1325.10,314.60Z" fill="#e1d5c8"/><path d="M1311.80,311.49L1301.57,304.65L1307.69,297.19L1316.40,305.90Z" fill="#e1d5c8"/><path d="M1301.57,304.65L1291.34,297.82L1298.99,288.49L1307.69,297.19Z" fill="#7aa37a"/><path d="M1291.34,297.82L1281.11,290.98L1290.29,279.79L1298.99,288.49Z" fill="#90ab80"/><path d="M1281.11,290.98L1270.88,284.14L1281.59,271.09L1290.29,279.79Z" fill="#c7bb8f"/><path d="M1270.88,284.14L1260.65,277.31L1272.89,262.39L1281.59,271.09Z" fill="#c7bb8f"/><path d="M1260.65,277.31L1250.41,270.47L1264.19,253.69L1272.89,262.39Z" fill="#efeef2"/><path d="M1250.41,270.47L1240.18,263.63L1255.49,244.99L1264.19,253.69Z" fill="#90ab80"/><path d="M1240.18,263.63L1229.95,256.80L1246.79,236.29L1255.49,244.99Z" fill="#e1d5c8"/><path d="M1229.95,256.80L1219.72,249.96L1238.08,227.58L1246.79,236.29Z" fill="#e1d5c8"/><path d="M1219.72,249.96L1209.49,243.12L1229.38,218.88L1238.08,227.58Z" fill="#dcc6a5"/><path d="M1342.50,332.00L1333.80,323.30L1335.66,321.77L1342.50,332.00Z" fill="#efeef2"/><path d="M1333.80,323.30L1325.10,314.60L1328.83,311.54L1335.66,321.77Z" fill="#efeef2"/><path d="M1325.10,314.60L1316.40,305.90L1321.99,301.30L1328.83,311.54Z" fill="#90ab80"/><path d="M1316.40,305.90L1307.69,297.19L1315.15,291.07L1321.99,301.30Z" fill="#86a77c"/><path d="M1307.69,297.19L1298.99,288.49L1308.32,280.84L1315.15,291.07Z" fill="#90ab80"/><path d="M1298.99,288.49L1290.29,279.79L1301.48,270.61L1308.32,280.84Z" fill="#4b9674"/><path d="M1290.29,279.79L1281.59,271.09L1294.64,260.38L1301.48,270.61Z" fill="#90ab80"/><path d="M1281.59,271.09L1272.89,262.39L1287.81,250.15L1294.64,260.38Z" fill="#9cae82"/><path d="M1272.89,262.39L1264.19,253.69L1280.97,239.91L1287.81,250.15Z" fill="#3f9273"/><path d="M1264.19,253.69L1255.49,244.99L1274.13,229.68L1280.97,239.91Z" fill="#3f9273"/><path d="M1255.49,244.99L1246.79,236.29L1267.30,219.45L1274.13,229.68Z" fill="#90ab80"/><path d="M1246.79,236.29L1238.08,227.58L1260.46,209.22L1267.30,219.45Z" fill="#90ab80"/><path d="M1238.08,227.58L1229.38,218.88L1253.62,198.99L1260.46,209.22Z" fill="#dcc6a5"/><path d="M1229.38,218.88L1220.68,210.18L1246.79,188.76L1253.62,198.99Z" fill="#dcc6a5"/><path d="M1220.68,210.18L1211.98,201.48L1239.95,178.52L1246.79,188.76Z" fill="#e6e1de"/><path d="M1211.98,201.48L1203.28,192.78L1233.11,168.29L1239.95,178.52Z" fill="#e1d5c8"/><path d="M1203.28,192.78L1194.58,184.08L1226.28,158.06L1233.11,168.29Z" fill="#e1d5c8"/><path d="M1194.58,184.08L1185.88,175.38L1219.44,147.83L1226.28,158.06Z" fill="#efeef2"/><path d="M1342.50,332.00L1335.66,321.77L1337.79,320.63L1342.50,332.00Z" fill="#e4dbd3"/><path d="M1335.66,321.77L1328.83,311.54L1333.08,309.26L1337.79,320.63Z" fill="#e1d5c8"/><path d="M1328.83,311.54L1321.99,301.30L1328.37,297.89L1333.08,309.26Z" fill="#e1d5c8"/><path d="M1321.99,301.30L1315.15,291.07L1323.66,286.52L1328.37,297.89Z" fill="#a8b085"/><path d="M1315.15,291.07L1308.32,280.84L1318.95,275.16L1323.66,286.52Z" fill="#90ab80"/><path d="M1308.32,280.84L1301.48,270.61L1314.25,263.79L1318.95,275.16Z" fill="#3f9273"/><path d="M1301.48,270.61L1294.64,260.38L1309.54,252.42L1314.25,263.79Z" fill="#7aa37a"/><path d="M1294.64,260.38L1287.81,250.15L1304.83,241.05L1309.54,252.42Z" fill="#b8b58a"/><path d="M1287.81,250.15L1280.97,239.91L1300.12,229.68L1304.83,241.05Z" fill="#5b9a76"/><path d="M1280.97,239.91L1274.13,229.68L1295.41,218.31L1300.12,229.68Z" fill="#a8b085"/><path d="M1274.13,229.68L1267.30,219.45L1290.70,206.94L1295.41,218.31Z" fill="#c7bb8f"/><path d="M1267.30,219.45L1260.46,209.22L1285.99,195.57L1290.70,206.94Z" fill="#0d666b"/><path d="M1260.46,209.22L1253.62,198.99L1281.28,184.20L1285.99,195.57Z" fill="#9cae82"/><path d="M1253.62,198.99L1246.79,188.76L1276.57,172.84L1281.28,184.20Z" fill="#90ab80"/><path d="M1246.79,188.76L1239.95,178.52L1271.86,161.47L1276.57,172.84Z" fill="#e6e1de"/><path d="M1239.95,178.52L1233.11,168.29L1267.15,150.10L1271.86,161.47Z" fill="#e6e1de"/><path d="M1233.11,168.29L1226.28,158.06L1262.44,138.73L1267.15,150.10Z" fill="#e1d5c8"/><path d="M1226.28,158.06L1219.44,147.83L1257.74,127.36L1262.44,138.73Z" fill="#e6e1de"/><path d="M1342.50,332.00L1337.79,320.63L1340.10,319.93L1342.50,332.00Z" fill="#e6e1de"/><path d="M1337.79,320.63L1333.08,309.26L1337.70,307.86L1340.10,319.93Z" fill="#e4dbd3"/><path d="M1333.08,309.26L1328.37,297.89L1335.30,295.79L1337.70,307.86Z" fill="#e4dbd3"/><path d="M1328.37,297.89L1323.66,286.52L1332.90,283.72L1335.30,295.79Z" fill="#e4dbd3"/><path d="M1323.66,286.52L1318.95,275.16L1330.50,271.65L1332.90,283.72Z" fill="#5b9a76"/><path d="M1318.95,275.16L1314.25,263.79L1328.10,259.59L1330.50,271.65Z" fill="#c7bb8f"/><path d="M1314.25,263.79L1309.54,252.42L1325.70,247.52L1328.10,259.59Z" fill="#a8b085"/><path d="M1309.54,252.42L1304.83,241.05L1323.29,235.45L1325.70,247.52Z" fill="#90ab80"/><path d="M1304.83,241.05L1300.12,229.68L1320.89,223.38L1323.29,235.45Z" fill="#3f9273"/><path d="M1300.12,229.68L1295.41,218.31L1318.49,211.31L1320.89,223.38Z" fill="#3f9273"/><path d="M1295.41,218.31L1290.70,206.94L1316.09,199.24L1318.49,211.31Z" fill="#e1d5c8"/><path d="M1290.70,206.94L1285.99,195.57L1313.69,187.17L1316.09,199.24Z" fill="#5b9a76"/><path d="M1285.99,195.57L1281.28,184.20L1311.29,175.10L1313.69,187.17Z" fill="#e1d5c8"/><path d="M1281.28,184.20L1276.57,172.84L1308.89,163.03L1311.29,175.10Z" fill="#c7bb8f"/><path d="M1276.57,172.84L1271.86,161.47L1306.49,150.96L1308.89,163.03Z" fill="#e1d5c8"/><path d="M1271.86,161.47L1267.15,150.10L1304.09,138.89L1306.49,150.96Z" fill="#e6e1de"/><path d="M1267.15,150.10L1262.44,138.73L1301.69,126.83L1304.09,138.89Z" fill="#e6e1de"/><path d="M1262.44,138.73L1257.74,127.36L1299.29,114.76L1301.69,126.83Z" fill="#e6e1de"/><path d="M1342.50,332.00L1340.10,319.93L1342.50,319.69L1342.50,332.00Z" fill="#efeef2"/><path d="M1340.10,319.93L1337.70,307.86L1342.50,307.39L1342.50,319.69Z" fill="#e4dbd3"/><path d="M1337.70,307.86L1335.30,295.79L1342.50,295.08L1342.50,307.39Z" fill="#c7bb8f"/><path d="M1335.30,295.79L1332.90,283.72L1342.50,282.78L1342.50,295.08Z" fill="#e4dbd3"/><path d="M1332.90,283.72L1330.50,271.65L1342.50,270.47L1342.50,282.78Z" fill="#dcc6a5"/><path d="M1330.50,271.65L1328.10,259.59L1342.50,258.17L1342.50,270.47Z" fill="#c7bb8f"/><path d="M1328.10,259.59L1325.70,247.52L1342.50,245.86L1342.50,258.17Z" fill="#e1d5c8"/><path d="M1325.70,247.52L1323.29,235.45L1342.50,233.56L1342.50,245.86Z" fill="#a8b085"/><path d="M1323.29,235.45L1320.89,223.38L1342.50,221.25L1342.50,233.56Z" fill="#dcc6a5"/><path d="M1320.89,223.38L1318.49,211.31L1342.50,208.94L1342.50,221.25Z" fill="#3f9273"/><path d="M1318.49,211.31L1316.09,199.24L1342.50,196.64L1342.50,208.94Z" fill="#dcc6a5"/><path d="M1316.09,199.24L1313.69,187.17L1342.50,184.33L1342.50,196.64Z" fill="#dcc6a5"/><path d="M1313.69,187.17L1311.29,175.10L1342.50,172.03L1342.50,184.33Z" fill="#e1d5c8"/><path d="M1311.29,175.10L1308.89,163.03L1342.50,159.72L1342.50,172.03Z" fill="#e6e1de"/></g>
<g fill="none" stroke="#b0b0b0" stroke-width="1.05"><circle cx="1342.50" cy="332.00" r="44.30"/><circle cx="1342.50" cy="332.00" r="88.60"/><circle cx="1342.50" cy="332.00" r="132.90"/><circle cx="1342.50" cy="332.00" r="177.20"/><circle cx="1342.50" cy="332.00" r="221.50"/><line x1="1342.50" y1="332.00" x2="1342.50" y2="97.60"/><line x1="1342.50" y1="332.00" x2="1508.25" y2="166.25"/><line x1="1342.50" y1="332.50" x2="1576.90" y2="332.50"/><line x1="1342.50" y1="332.00" x2="1508.25" y2="497.75"/><line x1="1342.50" y1="332.00" x2="1342.50" y2="566.40"/><line x1="1342.50" y1="332.00" x2="1176.75" y2="497.75"/><line x1="1342.50" y1="332.50" x2="1108.10" y2="332.50"/><line x1="1342.50" y1="332.00" x2="1176.75" y2="166.25"/></g>
<circle cx="1342.50" cy="332.00" r="234.40" fill="none" stroke="#000" stroke-width="1.1"/>
<text x="1335.66" y="83.90" font-size="19.77" textLength="13.27" lengthAdjust="spacingAndGlyphs">N</text>
<text x="1336.57" y="591.50" font-size="19.77" textLength="11.06" lengthAdjust="spacingAndGlyphs">S</text>
<text x="1590.71" y="337.60" font-size="19.77" textLength="10.75" lengthAdjust="spacingAndGlyphs">E</text>
<text x="1079.94" y="337.60" font-size="19.77" textLength="17.31" lengthAdjust="spacingAndGlyphs">W</text>
<text x="1383.59" y="310.95" font-size="19.77" textLength="28.31" lengthAdjust="spacingAndGlyphs">0.2</text>
<text x="1424.09" y="293.99" font-size="19.77" textLength="28.72" lengthAdjust="spacingAndGlyphs">0.4</text>
<text x="1465.08" y="277.04" font-size="19.77" textLength="28.91" lengthAdjust="spacingAndGlyphs">0.6</text>
<text x="1506.06" y="260.09" font-size="19.77" textLength="28.79" lengthAdjust="spacingAndGlyphs">0.8</text>
<text x="1546.62" y="243.14" font-size="19.77" textLength="28.68" lengthAdjust="spacingAndGlyphs">1.0</text>
<defs><linearGradient id="cb" x1="0" x2="1" y1="0" y2="0">
<stop offset="0.000" stop-color="#eeedf2"/>
<stop offset="0.010" stop-color="#edebef"/>
<stop offset="0.020" stop-color="#ebe9ed"/>
<stop offset="0.030" stop-color="#eae8ea"/>
<stop offset="0.040" stop-color="#e9e6e7"/>
<stop offset="0.050" stop-color="#e8e4e4"/>
<stop offset="0.060" stop-color="#e6e2e1"/>
<stop offset="0.070" stop-color="#e5dfdd"/>
<stop offset="0.080" stop-color="#e4ddd8"/>
<stop offset="0.090" stop-color="#e3dad4"/>
<stop offset="0.100" stop-color="#e1d8d0"/>
<stop offset="0.110" stop-color="#e0d5cb"/>
<stop offset="0.120" stop-color="#dfd2c4"/>
<stop offset="0.130" stop-color="#ddcebc"/>
<stop offset="0.140" stop-color="#dbcbb4"/>
<stop offset="0.150" stop-color="#dac7ac"/>
<stop offset="0.160" stop-color="#d8c3a4"/>
<stop offset="0.170" stop-color="#d6c19e"/>
<stop offset="0.180" stop-color="#d2bf9b"/>
<stop offset="0.190" stop-color="#cfbe98"/>
<stop offset="0.200" stop-color="#ccbc95"/>
<stop offset="0.210" stop-color="#c8bb92"/>
<stop offset="0.220" stop-color="#c5b98f"/>
<stop offset="0.230" stop-color="#c0b88d"/>
<stop offset="0.240" stop-color="#bab68b"/>
<stop offset="0.250" stop-color="#b4b489"/>
<stop offset="0.260" stop-color="#aeb287"/>
<stop offset="0.270" stop-color="#a8b085"/>
<stop offset="0.280" stop-color="#a3af84"/>
<stop offset="0.290" stop-color="#9ead82"/>
<stop offset="0.300" stop-color="#9aac81"/>
<stop offset="0.310" stop-color="#96aa80"/>
<stop offset="0.320" stop-color="#91a97f"/>
<stop offset="0.330" stop-color="#8ca77d"/>
<stop offset="0.340" stop-color="#88a67c"/>
<stop offset="0.350" stop-color="#83a47c"/>
<stop offset="0.360" stop-color="#7ea27b"/>
<stop offset="0.370" stop-color="#79a07a"/>
<stop offset="0.380" stop-color="#739f79"/>
<stop offset="0.390" stop-color="#6f9d78"/>
<stop offset="0.400" stop-color="#6a9c77"/>
<stop offset="0.410" stop-color="#669a77"/>
<stop offset="0.420" stop-color="#629976"/>
<stop offset="0.430" stop-color="#5e9876"/>
<stop offset="0.440" stop-color="#5a9775"/>
<stop offset="0.450" stop-color="#569575"/>
<stop offset="0.460" stop-color="#529474"/>
<stop offset="0.470" stop-color="#4d9374"/>
<stop offset="0.480" stop-color="#499274"/>
<stop offset="0.490" stop-color="#459073"/>
<stop offset="0.500" stop-color="#418f73"/>
<stop offset="0.510" stop-color="#3d8d73"/>
<stop offset="0.520" stop-color="#388c72"/>
<stop offset="0.530" stop-color="#338a72"/>
<stop offset="0.540" stop-color="#2f8972"/>
<stop offset="0.550" stop-color="#2a8771"/>
<stop offset="0.560" stop-color="#268571"/>
<stop offset="0.570" stop-color="#228471"/>
<stop offset="0.580" stop-color="#1d8271"/>
<stop offset="0.590" stop-color="#198070"/>
<stop offset="0.600" stop-color="#157f70"/>
<stop offset="0.610" stop-color="#107d70"/>
<stop offset="0.620" stop-color="#0f7b70"/>
<stop offset="0.630" stop-color="#0d796f"/>
<stop offset="0.640" stop-color="#0c776f"/>
<stop offset="0.650" stop-color="#0a756f"/>
<stop offset="0.660" stop-color="#09736e"/>
<stop offset="0.670" stop-color="#08716e"/>
<stop offset="0.680" stop-color="#0a6f6d"/>
<stop offset="0.690" stop-color="#0b6d6d"/>
<stop offset="0.700" stop-color="#0d6b6c"/>
<stop offset="0.710" stop-color="#0e696c"/>
<stop offset="0.720" stop-color="#10666b"/>
<stop offset="0.730" stop-color="#12646a"/>
<stop offset="0.740" stop-color="#146169"/>
<stop offset="0.750" stop-color="#165e68"/>
<stop offset="0.760" stop-color="#175c68"/>
<stop offset="0.770" stop-color="#195967"/>
<stop offset="0.780" stop-color="#1b5666"/>
<stop offset="0.790" stop-color="#1d5464"/>
<stop offset="0.800" stop-color="#1e5163"/>
<stop offset="0.810" stop-color="#204e61"/>
<stop offset="0.820" stop-color="#214c60"/>
<stop offset="0.830" stop-color="#23495e"/>
<stop offset="0.840" stop-color="#24465d"/>
<stop offset="0.850" stop-color="#24445b"/>
<stop offset="0.860" stop-color="#254159"/>
<stop offset="0.870" stop-color="#263e57"/>
<stop offset="0.880" stop-color="#273b55"/>
<stop offset="0.890" stop-color="#283953"/>
<stop offset="0.900" stop-color="#283651"/>
<stop offset="0.910" stop-color="#28344f"/>
<stop offset="0.920" stop-color="#27314d"/>
<stop offset="0.930" stop-color="#272f4b"/>
<stop offset="0.940" stop-color="#272c49"/>
<stop offset="0.950" stop-color="#272a47"/>
<stop offset="0.960" stop-color="#262744"/>
<stop offset="0.970" stop-color="#252442"/>
<stop offset="0.980" stop-color="#24213f"/>
<stop offset="0.990" stop-color="#231f3d"/>
<stop offset="1.000" stop-color="#221c3a"/>
</linearGradient></defs>
<rect x="406.50" y="605.50" width="800.00" height="30.00" fill="url(#cb)" stroke="#000" stroke-width="1.0"/>
<line x1="406.50" y1="635.50" x2="406.50" y2="657.60" stroke="#000" stroke-width="1.0"/>
<text x="399.99" y="680.80" font-size="23.60" textLength="13.01" lengthAdjust="spacingAndGlyphs">0</text>
<line x1="495.50" y1="635.50" x2="495.50" y2="657.60" stroke="#000" stroke-width="1.0"/>
<text x="489.23" y="680.80" font-size="23.60" textLength="12.55" lengthAdjust="spacingAndGlyphs">2</text>
<line x1="584.50" y1="635.50" x2="584.50" y2="657.60" stroke="#000" stroke-width="1.0"/>
<text x="578.07" y="680.80" font-size="23.60" textLength="13.02" lengthAdjust="spacingAndGlyphs">4</text>
<line x1="673.50" y1="635.50" x2="673.50" y2="657.60" stroke="#000" stroke-width="1.0"/>
<text x="666.68" y="680.80" font-size="23.60" textLength="13.47" lengthAdjust="spacingAndGlyphs">6</text>
<line x1="762.50" y1="635.50" x2="762.50" y2="657.60" stroke="#000" stroke-width="1.0"/>
<text x="755.92" y="680.80" font-size="23.60" textLength="13.16" lengthAdjust="spacingAndGlyphs">8</text>
<line x1="850.50" y1="635.50" x2="850.50" y2="657.60" stroke="#000" stroke-width="1.0"/>
<text x="836.47" y="680.80" font-size="23.60" textLength="27.15" lengthAdjust="spacingAndGlyphs">10</text>
<line x1="939.50" y1="635.50" x2="939.50" y2="657.60" stroke="#000" stroke-width="1.0"/>
<text x="925.88" y="680.80" font-size="23.60" textLength="26.61" lengthAdjust="spacingAndGlyphs">12</text>
<line x1="1028.50" y1="635.50" x2="1028.50" y2="657.60" stroke="#000" stroke-width="1.0"/>
<text x="1014.36" y="680.80" font-size="23.60" textLength="27.14" lengthAdjust="spacingAndGlyphs">14</text>
<line x1="1117.50" y1="635.50" x2="1117.50" y2="657.60" stroke="#000" stroke-width="1.0"/>
<text x="1103.42" y="680.80" font-size="23.60" textLength="27.37" lengthAdjust="spacingAndGlyphs">16</text>
<line x1="1206.50" y1="635.50" x2="1206.50" y2="657.60" stroke="#000" stroke-width="1.0"/>
<text x="1192.49" y="680.80" font-size="23.60" textLength="27.22" lengthAdjust="spacingAndGlyphs">18</text>
<text x="522.68" y="708.70" font-size="23.57" textLength="564.58" lengthAdjust="spacingAndGlyphs">Currents [m/s] at COI0517; number of occurrences</text>
</svg></body></html>
